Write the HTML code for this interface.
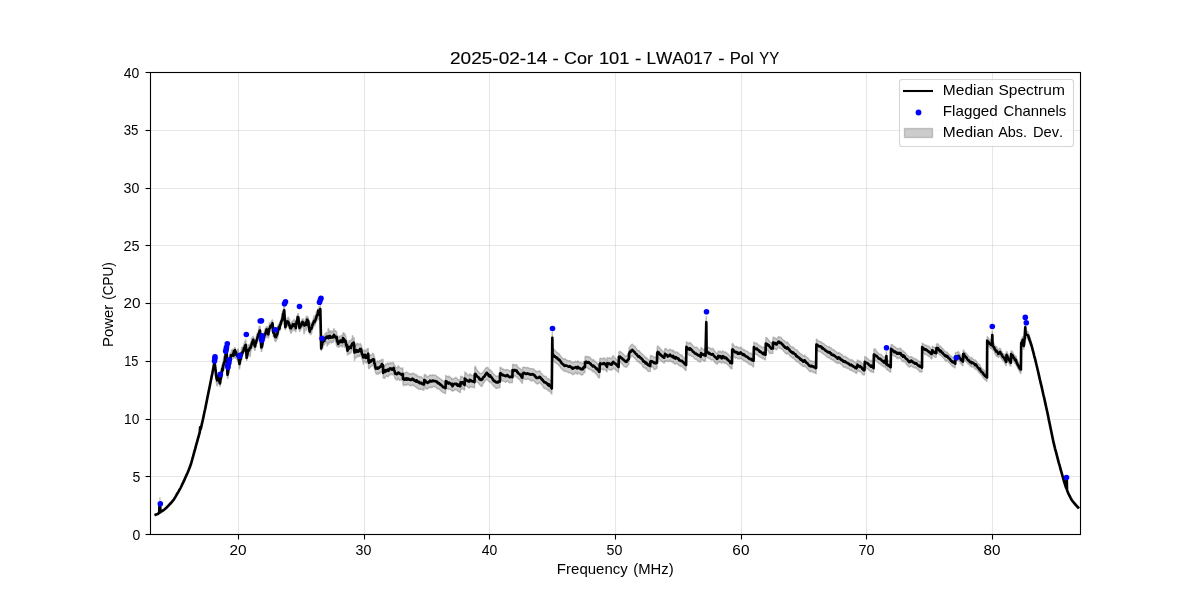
<!DOCTYPE html>
<html><head><meta charset="utf-8"><title>Median Spectrum</title>
<style>html,body{margin:0;padding:0;background:#fff;}body{width:1200px;height:600px;overflow:hidden;font-family:"Liberation Sans",sans-serif;}svg{display:block;will-change:transform;}text{font-family:"Liberation Sans",sans-serif;fill:#000;font-kerning:none;}</style>
</head><body>
<svg width="1200" height="600" viewBox="0 0 1200 600">
<rect x="0" y="0" width="1200" height="600" fill="#ffffff"/>
<g stroke="#b0b0b0" stroke-opacity="0.3" stroke-width="1.111">
<line x1="238.5" y1="72" x2="238.5" y2="534"/>
<line x1="364.5" y1="72" x2="364.5" y2="534"/>
<line x1="489.5" y1="72" x2="489.5" y2="534"/>
<line x1="615.5" y1="72" x2="615.5" y2="534"/>
<line x1="741.5" y1="72" x2="741.5" y2="534"/>
<line x1="866.5" y1="72" x2="866.5" y2="534"/>
<line x1="992.5" y1="72" x2="992.5" y2="534"/>
<line x1="150" y1="476.5" x2="1080" y2="476.5"/>
<line x1="150" y1="419.5" x2="1080" y2="419.5"/>
<line x1="150" y1="361.5" x2="1080" y2="361.5"/>
<line x1="150" y1="303.5" x2="1080" y2="303.5"/>
<line x1="150" y1="245.5" x2="1080" y2="245.5"/>
<line x1="150" y1="188.5" x2="1080" y2="188.5"/>
<line x1="150" y1="130.5" x2="1080" y2="130.5"/>
</g>
<path d="M214.7,359.9L215.2,363.6L215.7,366.9L216.2,369.0L216.7,373.3L217.2,376.5L217.8,373.0L218.3,374.1L218.9,376.4L219.4,377.8L220.0,377.6L220.6,375.4L221.1,372.6L221.7,364.7L222.2,366.3L222.7,365.1L223.2,361.6L223.7,356.4L224.2,356.6L224.7,357.1L225.2,353.2L225.7,352.0L226.2,346.2L226.7,348.7L227.5,370.9L228.0,367.8L228.5,363.6L229.0,362.4L229.6,359.6L230.2,353.2L230.8,352.4L231.4,351.9L231.9,349.1L232.4,352.0L233.0,348.7L233.5,351.2L234.0,348.3L234.5,349.1L235.0,347.1L235.5,350.5L236.0,350.5L236.5,351.4L237.1,351.8L237.7,349.2L238.3,349.1L238.9,357.0L239.5,361.2L240.1,354.6L240.6,355.1L241.1,351.4L241.7,347.0L242.3,347.8L242.8,347.1L243.4,346.0L244.0,344.0L244.6,342.0L245.2,341.3L245.8,339.6L246.7,353.7L247.3,351.4L247.9,348.2L248.5,344.1L249.0,346.6L249.5,344.5L250.0,344.9L250.5,344.5L251.0,341.8L251.5,337.7L252.1,338.8L252.7,336.8L253.3,336.5L253.9,337.9L254.4,339.6L255.0,340.4L255.5,338.9L256.0,338.9L256.5,335.4L257.0,333.4L257.5,333.4L258.0,332.2L258.5,330.9L259.0,327.0L259.5,327.0L260.0,325.7L260.6,332.9L261.3,343.7L261.9,341.2L262.4,339.9L263.0,335.9L263.6,335.1L264.2,331.7L264.7,332.0L265.2,328.2L265.7,329.5L266.2,326.9L266.7,326.3L267.2,327.7L267.8,326.3L268.3,330.6L268.9,327.1L269.4,322.4L269.9,324.8L270.5,322.7L271.0,322.3L271.5,321.1L272.0,320.3L272.5,319.6L273.3,327.8L273.8,327.4L274.3,329.6L274.8,332.1L275.3,331.8L275.8,333.1L276.3,331.3L276.8,328.7L277.3,327.1L277.8,326.2L278.3,324.9L278.8,323.9L279.4,323.6L279.9,322.1L280.5,320.5L281.0,319.2L281.5,317.2L282.1,316.3L282.6,311.4L283.1,310.6L283.7,308.4L284.2,304.8L284.8,315.3L285.3,322.3L285.8,319.6L286.3,319.3L286.8,319.2L287.3,318.1L287.8,317.9L288.3,316.8L288.8,319.7L289.3,318.6L289.8,322.7L290.3,322.9L290.8,325.5L291.4,322.2L291.9,321.9L292.4,321.1L293.0,320.8L293.6,321.4L294.1,318.9L294.7,322.6L295.2,320.4L295.8,321.3L296.3,320.3L296.8,315.5L297.3,316.8L297.8,314.2L298.3,313.0L298.9,318.0L299.5,323.7L300.0,322.4L300.5,322.7L301.0,321.9L301.5,321.1L302.0,319.7L302.5,318.9L303.0,318.8L303.5,319.6L304.0,321.3L304.5,321.3L305.0,322.0L305.5,318.8L306.0,317.6L306.5,316.3L307.1,316.4L307.7,316.7L308.3,317.5L309.0,322.7L309.7,328.1L310.2,323.3L310.8,322.8L311.4,323.5L311.9,323.5L312.4,321.6L313.0,320.9L313.5,318.4L314.1,315.5L314.6,317.6L315.1,316.3L315.6,316.0L316.2,312.3L316.7,312.6L317.2,310.7L317.7,310.2L318.2,308.0L318.8,309.2L319.3,306.1L319.8,307.5L320.3,305.0L321.2,343.0L321.7,340.8L322.2,339.5L322.8,338.0L323.3,335.3L323.9,336.3L324.4,336.4L324.9,333.7L325.5,333.3L326.1,334.5L326.6,331.8L327.2,334.0L327.7,334.0L328.3,327.8L328.8,330.4L329.4,333.3L329.9,330.0L330.5,332.1L331.0,332.2L331.5,330.6L332.0,333.1L332.5,330.7L333.0,333.0L333.5,329.8L334.0,328.3L334.5,331.6L335.0,330.8L335.6,330.8L336.1,331.5L336.6,331.7L337.2,336.3L337.8,336.1L338.3,339.3L338.8,337.0L339.4,335.8L339.9,337.3L340.5,336.6L341.0,336.7L341.5,334.9L342.0,335.5L342.5,336.1L343.0,333.5L343.5,332.2L344.0,333.5L344.5,336.1L345.0,333.4L345.5,336.1L346.0,337.5L346.5,340.3L347.0,340.6L347.5,344.9L348.0,344.0L348.5,342.7L349.0,341.4L349.5,340.1L350.0,342.1L350.5,341.4L351.0,340.1L351.5,339.3L352.1,339.6L352.6,335.2L353.1,339.9L353.6,336.9L354.2,338.3L354.4,346.3L355.0,345.4L355.5,346.7L356.0,344.7L356.5,345.5L357.0,343.3L357.5,343.3L358.0,345.2L358.6,344.0L359.1,344.4L359.7,344.4L360.2,343.6L360.8,344.3L361.3,345.5L361.8,346.9L362.3,349.2L362.8,349.7L363.3,352.0L363.9,351.0L364.4,350.2L364.9,350.0L365.5,351.4L366.0,350.6L366.6,351.1L367.1,349.0L367.7,349.2L368.2,347.9L368.5,356.7L369.0,357.6L369.5,355.9L370.0,354.7L370.5,355.6L371.0,354.9L371.6,354.9L372.1,354.5L372.7,353.4L373.3,353.9L373.8,354.0L374.3,357.1L374.8,358.0L375.3,359.8L375.8,363.2L376.3,362.8L376.9,362.0L377.4,360.4L377.9,361.6L378.5,362.3L379.0,361.8L379.6,360.0L380.1,361.3L380.7,360.9L381.3,360.1L381.8,359.3L382.4,359.6L383.0,359.5L383.2,367.1L383.8,365.8L384.3,365.8L384.8,366.0L385.4,365.1L385.9,363.9L386.4,364.2L386.9,364.0L387.5,362.7L388.0,363.5L388.5,364.3L389.0,363.5L389.5,363.1L390.0,362.8L390.5,363.4L391.0,362.9L391.5,363.1L392.0,363.5L392.5,363.0L393.1,362.5L393.6,362.9L394.1,364.4L394.7,365.4L395.2,366.0L395.8,367.6L396.3,367.4L396.9,368.3L397.4,368.0L397.9,366.6L398.5,365.7L399.0,366.9L399.5,367.5L400.1,367.8L400.6,368.1L401.1,368.1L401.7,368.8L402.2,368.4L402.8,368.1L403.0,373.2L403.6,373.4L404.1,373.8L404.6,373.8L405.1,372.7L405.7,372.6L406.2,372.0L406.7,372.2L407.2,372.5L407.8,372.7L408.3,373.3L408.8,373.4L409.3,374.0L409.8,373.7L410.3,373.9L410.8,373.7L411.3,373.8L411.8,374.1L412.4,373.2L412.9,373.9L413.4,373.6L413.9,373.4L414.4,373.9L414.9,374.2L415.4,374.5L415.9,375.1L416.4,375.8L416.9,374.9L417.4,375.7L417.9,376.1L418.4,376.4L418.9,376.3L419.4,376.8L419.9,377.0L420.5,376.9L421.0,376.5L421.5,377.1L422.0,377.6L422.5,377.9L423.0,378.4L423.5,378.5L424.0,378.6L424.3,374.2L424.8,374.8L425.4,374.6L425.9,375.5L426.4,376.0L427.0,376.6L427.5,377.0L428.0,376.5L428.5,376.4L429.0,375.9L429.5,375.6L430.0,374.9L430.5,375.3L431.1,375.3L431.6,375.6L432.1,375.4L432.6,374.8L433.2,375.1L433.7,375.1L434.2,375.3L434.7,375.3L435.3,375.3L435.8,375.4L436.3,376.0L436.8,376.6L437.3,376.7L437.8,377.5L438.3,377.3L438.8,377.5L439.4,378.0L439.9,378.4L440.4,379.1L440.9,379.2L441.4,379.6L441.9,379.9L442.4,380.4L442.9,380.8L443.4,381.1L443.9,381.5L444.4,381.7L444.9,381.9L445.5,382.4L445.8,375.6L446.3,375.9L446.8,376.1L447.3,376.3L447.8,376.7L448.3,377.0L448.9,376.1L449.4,376.4L449.9,376.9L450.4,377.4L450.9,378.0L451.5,378.6L452.0,378.0L452.5,380.3L453.1,379.1L453.6,378.7L454.1,378.6L454.7,378.2L455.2,378.1L455.8,377.5L456.3,377.8L456.8,378.3L457.3,379.3L457.8,379.9L458.3,379.6L458.8,379.6L459.3,380.4L459.8,380.3L460.4,380.0L460.6,375.8L461.2,376.7L461.8,377.3L462.3,376.6L462.9,377.3L463.5,377.5L464.0,378.3L464.6,378.4L464.9,372.2L465.4,372.4L466.0,373.0L466.5,373.5L467.0,374.2L467.6,374.6L468.1,375.3L468.7,375.6L469.2,375.7L469.7,374.1L470.2,374.0L470.8,374.6L471.3,374.8L471.8,375.4L472.4,375.7L472.9,375.5L473.4,375.2L473.9,375.2L474.5,375.1L474.8,367.1L475.3,366.5L475.8,367.6L476.4,368.9L476.9,370.0L477.4,370.5L478.0,371.2L478.5,371.8L479.0,372.2L479.6,373.3L480.1,373.5L480.6,373.5L481.2,373.6L481.7,373.2L482.2,373.3L482.7,372.4L483.2,372.1L483.7,371.3L484.2,370.7L484.7,369.7L485.2,368.9L485.7,368.3L486.2,368.1L486.7,367.0L487.2,367.7L487.7,367.7L488.2,367.9L488.7,369.3L489.2,369.8L489.7,370.5L490.2,369.5L490.7,370.4L491.2,371.0L491.8,371.5L492.3,372.3L492.8,372.9L493.3,373.7L493.8,374.4L494.3,374.6L494.8,375.1L495.3,375.5L495.8,375.8L496.3,376.1L496.8,376.3L497.3,376.1L497.8,376.4L498.3,376.3L498.8,375.7L499.3,375.7L499.9,375.7L500.1,367.4L500.7,367.5L501.2,367.8L501.7,368.4L502.2,368.8L502.7,369.2L503.2,369.1L503.7,369.6L504.3,369.7L504.8,369.7L505.3,369.9L505.8,370.0L506.3,369.4L506.8,369.4L507.3,369.6L507.8,369.8L508.3,370.3L508.8,370.4L509.3,370.5L509.8,371.0L510.3,371.0L510.8,370.9L511.3,370.7L511.8,370.4L512.4,370.5L512.6,364.0L513.2,364.8L513.7,365.4L514.2,364.5L514.7,364.6L515.2,364.9L515.7,364.9L516.2,364.8L516.7,364.7L517.2,366.1L517.7,366.6L518.2,367.7L518.8,368.0L519.3,367.9L519.8,368.3L520.3,368.8L520.8,369.4L521.3,370.0L521.8,371.0L522.4,371.4L522.6,367.8L523.2,367.3L523.7,367.2L524.2,367.1L524.7,367.2L525.2,367.5L525.8,367.6L526.3,367.9L526.8,368.0L527.3,367.4L527.8,367.4L528.4,367.8L528.9,368.1L529.4,368.5L529.9,368.6L530.4,368.8L530.9,368.6L531.5,368.8L532.0,368.8L532.5,368.7L533.0,368.7L533.5,369.2L534.1,369.6L534.6,369.9L535.1,370.7L535.7,370.8L536.2,371.6L536.7,371.5L537.2,371.6L537.7,371.4L538.2,371.5L538.7,371.4L539.2,370.9L539.7,370.8L540.2,371.6L540.7,372.5L541.2,373.3L541.7,373.5L542.2,374.4L542.7,374.7L543.2,375.2L543.7,376.0L544.2,376.3L544.7,376.3L545.2,376.3L545.8,376.5L546.3,377.0L546.8,378.0L547.3,378.5L547.8,379.1L548.3,379.6L548.8,378.7L549.3,379.4L549.8,380.0L550.3,380.3L550.8,380.8L551.3,381.7L551.8,382.4L552.3,331.7L552.6,349.0L553.1,348.2L553.6,348.7L554.2,349.8L554.7,350.1L555.2,350.9L555.7,351.3L556.2,351.9L556.7,352.3L557.3,352.4L557.8,353.1L558.3,353.2L558.8,354.0L559.3,353.8L559.8,354.8L560.3,355.5L560.8,356.2L561.3,356.9L561.8,357.4L562.3,358.0L562.8,358.6L563.3,358.8L563.8,359.0L564.4,359.3L564.9,358.6L565.4,359.2L566.0,359.6L566.5,359.9L567.1,360.2L567.6,360.5L568.1,360.6L568.7,361.0L569.2,360.9L569.8,360.6L570.3,360.9L570.9,361.6L571.4,361.9L572.0,362.1L572.5,362.8L573.0,362.4L573.6,362.2L574.1,362.0L574.7,362.0L575.2,361.7L575.8,361.3L576.3,361.7L576.8,361.9L577.3,362.1L577.8,360.7L578.3,361.3L578.8,362.1L579.3,362.4L579.8,362.5L580.3,362.3L580.8,362.5L581.3,362.9L581.8,363.3L582.3,363.4L582.8,363.5L583.3,361.9L583.8,361.6L584.3,361.2L584.9,361.7L585.1,356.5L585.7,356.3L586.2,356.2L586.7,356.7L587.2,357.2L587.7,357.2L588.2,356.6L588.7,356.7L589.2,357.3L589.7,357.3L590.2,357.8L590.7,358.1L591.2,359.0L591.8,359.4L592.3,359.9L592.8,360.5L593.3,359.6L593.8,360.0L594.3,360.7L594.8,361.1L595.4,361.7L595.9,362.3L596.4,362.2L596.9,362.8L597.4,363.5L597.9,364.2L598.4,364.7L598.9,365.8L599.5,366.1L599.8,358.7L600.3,358.1L600.8,358.5L601.3,358.5L601.9,358.5L602.4,358.4L602.9,358.6L603.4,358.7L604.0,357.9L604.5,358.1L605.0,358.5L605.6,359.2L606.3,360.4L607.0,361.4L607.2,357.7L607.8,358.0L608.4,358.0L608.9,358.1L609.5,357.8L610.0,358.1L610.6,358.6L611.1,358.8L611.7,358.7L612.2,357.1L612.8,356.3L613.3,355.9L613.8,356.7L614.4,357.5L614.9,358.0L615.4,358.3L616.0,359.1L616.5,359.6L617.0,360.0L617.5,360.7L618.1,361.3L618.6,361.6L618.9,351.5L619.4,352.0L619.9,351.3L620.5,351.7L621.0,352.1L621.5,352.6L622.0,352.8L622.5,353.4L623.1,353.8L623.6,354.4L624.1,354.9L624.6,355.4L625.1,355.8L625.7,356.1L626.2,356.3L626.7,356.2L627.2,355.0L627.8,354.3L628.3,353.7L628.8,353.5L629.1,348.0L629.6,347.0L630.1,346.2L630.7,345.9L631.2,344.9L631.7,344.5L632.2,344.1L632.7,344.6L633.3,345.3L633.8,345.8L634.3,346.1L634.8,346.2L635.3,346.7L635.9,347.8L636.4,348.5L636.9,349.5L637.4,350.1L637.9,350.5L638.4,351.0L639.0,350.6L639.5,351.1L640.0,352.1L640.5,352.3L641.0,352.9L641.5,353.6L642.1,354.0L642.6,354.2L643.1,355.0L643.6,355.6L644.1,355.9L644.6,356.7L645.2,357.1L645.7,358.1L646.2,357.5L646.7,358.3L647.2,358.4L647.7,359.1L648.2,359.3L648.7,359.8L649.2,360.2L649.7,360.6L650.2,360.5L650.5,355.6L651.1,355.7L651.6,356.2L652.1,355.9L652.6,356.4L653.2,356.5L653.7,357.1L654.2,357.4L654.8,357.3L655.3,357.0L655.9,357.2L656.4,357.0L657.0,356.8L657.2,347.0L657.8,346.1L658.3,346.7L658.9,346.8L659.4,347.8L659.9,348.1L660.5,349.0L661.0,349.2L661.5,350.0L662.1,350.7L662.6,351.1L663.1,351.8L663.7,351.9L664.2,352.2L665.0,348.3L665.5,348.8L666.1,348.6L666.6,349.2L667.2,350.0L667.8,350.6L668.3,350.5L668.9,350.4L669.4,349.8L670.0,349.1L670.5,349.8L671.0,350.2L671.6,350.4L672.1,350.3L672.6,351.0L673.2,350.1L673.7,350.7L674.2,352.0L674.8,352.0L675.3,352.5L675.9,351.9L676.4,352.5L677.0,352.5L677.5,352.2L678.0,353.0L678.5,353.0L679.0,353.9L679.5,354.3L680.0,354.5L680.5,354.9L681.0,355.3L681.5,354.9L682.1,355.3L682.6,356.1L683.1,356.7L683.6,357.2L684.1,357.9L684.6,358.3L685.1,358.9L685.6,359.4L686.1,359.6L686.4,341.5L686.9,342.2L687.4,342.7L687.9,343.2L688.4,343.5L689.0,343.0L689.5,343.4L690.0,342.2L690.5,343.1L691.0,343.5L691.5,344.2L692.0,344.5L692.5,345.1L693.0,345.7L693.5,346.2L694.1,346.9L694.6,347.5L695.1,347.5L695.6,347.6L696.1,347.0L696.6,347.4L697.1,347.7L697.6,347.9L698.1,348.7L698.7,349.6L699.2,350.1L699.7,350.5L700.2,350.5L700.7,350.6L701.0,347.0L701.6,348.0L702.1,348.4L702.7,349.1L703.2,349.1L703.8,349.3L704.3,349.6L704.9,348.7L705.5,349.6L706.3,316.0L706.6,346.2L707.1,346.6L707.6,346.8L708.1,347.1L708.7,347.8L709.2,347.6L709.7,348.0L710.2,348.3L710.7,348.4L711.2,349.0L711.7,348.9L712.2,348.5L712.8,348.5L713.3,349.1L713.8,349.6L714.3,350.5L714.9,351.3L715.4,351.9L715.9,352.4L716.4,352.9L717.0,353.5L717.5,353.5L718.3,350.7L718.9,351.6L719.4,352.0L720.0,351.2L720.6,351.6L721.1,352.1L721.7,353.1L722.2,351.5L722.8,351.0L723.3,351.4L723.8,351.7L724.3,352.5L724.8,352.7L725.3,352.1L725.9,352.2L726.4,352.8L726.9,353.0L727.4,353.7L727.9,353.7L728.4,354.5L728.9,355.2L729.4,355.8L729.9,356.4L730.4,357.3L730.9,357.2L731.4,357.7L732.0,357.5L732.2,344.1L732.8,343.6L733.3,344.4L733.8,345.3L734.3,346.0L734.8,346.8L735.3,346.8L735.8,346.9L736.3,346.4L736.8,346.6L737.3,346.8L737.8,347.6L738.3,347.8L738.9,347.6L739.4,347.9L740.0,347.7L740.5,347.1L741.0,347.6L741.5,348.1L742.0,348.5L742.5,349.1L743.0,349.2L743.5,349.8L744.0,349.4L744.5,350.0L745.0,350.4L745.5,351.0L746.0,351.2L746.5,351.3L747.1,351.1L747.6,351.4L748.1,352.1L748.6,352.7L749.1,353.0L749.6,353.2L750.1,353.2L750.6,353.4L751.1,353.2L751.6,354.0L752.1,354.6L752.6,354.6L753.1,355.1L753.6,355.2L753.9,341.7L754.4,342.5L754.9,343.2L755.4,343.3L755.9,343.5L756.4,343.7L756.9,343.1L757.4,343.9L757.9,344.4L758.4,344.8L758.9,345.1L759.4,345.8L759.9,345.7L760.4,346.1L760.9,346.4L761.4,346.8L761.9,347.1L762.4,347.3L762.9,347.6L763.4,347.0L763.9,347.6L764.4,348.6L764.9,348.6L765.5,349.1L765.8,337.9L766.2,338.0L766.8,337.8L767.2,338.3L767.8,339.1L768.2,339.7L768.8,340.0L769.2,341.1L769.8,341.6L770.2,342.1L770.8,342.5L771.2,343.0L771.8,343.0L772.2,343.0L772.8,343.4L773.0,337.3L773.6,337.4L774.1,337.4L774.6,337.7L775.1,337.9L775.7,338.7L776.2,339.1L776.7,339.3L777.2,338.2L777.7,337.7L778.2,337.0L778.7,336.6L779.2,337.0L779.7,337.5L780.2,337.4L780.8,337.1L781.3,337.6L781.8,338.7L782.3,339.2L782.8,339.6L783.3,339.9L783.8,340.4L784.4,340.6L784.9,341.5L785.4,342.0L785.9,342.2L786.4,342.6L786.9,343.1L787.4,342.0L787.9,342.6L788.5,343.5L789.0,344.3L789.5,344.6L790.0,345.8L790.5,345.9L791.0,346.6L791.5,346.8L792.0,347.3L792.5,347.7L793.0,346.9L793.5,347.4L794.0,347.9L794.5,348.5L795.0,349.1L795.5,349.3L796.0,349.8L796.5,350.1L797.0,349.9L797.5,350.9L798.0,351.3L798.5,352.0L799.0,352.5L799.5,353.0L800.0,353.6L800.5,354.1L801.0,353.9L801.5,354.2L802.0,354.7L802.5,355.0L803.0,355.8L803.5,356.1L804.0,356.3L804.5,355.2L805.0,355.5L805.5,356.3L806.0,356.8L806.5,357.3L807.0,357.4L807.5,357.6L808.0,358.0L808.5,358.7L809.0,359.4L809.5,360.2L810.0,360.6L810.5,361.1L811.0,360.7L811.5,361.0L812.0,361.3L812.5,361.2L813.0,361.5L813.6,361.7L814.1,361.4L814.6,361.4L815.1,362.1L815.6,362.7L816.1,362.9L816.4,339.2L816.9,339.4L817.4,340.0L817.9,340.4L818.4,340.9L818.9,341.4L819.4,341.5L820.0,341.7L820.5,341.8L821.0,341.9L821.5,342.0L822.0,343.0L822.5,343.3L823.0,343.2L823.5,343.7L824.0,343.9L824.5,344.3L825.0,344.9L825.5,345.4L826.0,345.6L826.5,345.9L827.1,346.2L827.6,346.7L828.1,346.7L828.6,347.0L829.1,346.7L829.6,346.8L830.1,347.6L830.6,347.8L831.1,347.9L831.6,348.8L832.1,349.1L832.6,349.5L833.1,349.9L833.7,349.5L834.2,350.1L834.7,350.5L835.2,350.9L835.7,351.4L836.2,351.8L836.7,352.0L837.2,352.6L837.7,353.4L838.2,353.5L838.7,352.5L839.2,352.8L839.7,353.0L840.2,353.4L840.7,354.0L841.2,354.2L841.7,354.3L842.2,354.8L842.7,355.6L843.2,356.2L843.7,356.3L844.2,356.6L844.7,356.8L845.2,356.3L845.7,356.8L846.2,357.1L846.7,357.4L847.2,357.7L847.7,358.1L848.2,358.4L848.7,358.8L849.2,359.3L849.7,359.7L850.2,360.1L850.7,360.1L851.2,359.6L851.7,360.1L852.2,360.0L852.7,360.4L853.2,360.8L853.7,361.3L854.2,361.7L854.7,361.8L855.2,362.6L855.7,362.6L856.2,363.0L856.7,362.8L857.5,359.7L858.0,360.5L858.6,360.6L859.1,361.1L859.6,361.7L860.2,361.2L860.7,361.9L861.2,362.3L861.8,363.0L862.3,363.7L862.8,364.0L863.4,365.0L863.9,365.4L864.5,365.1L864.8,356.7L865.3,357.0L865.8,357.1L866.3,357.3L866.8,357.8L867.4,358.5L867.9,358.8L868.4,359.3L868.9,359.9L869.4,360.3L870.0,360.6L870.5,360.9L871.0,361.3L871.5,360.3L872.0,360.8L872.6,361.4L873.1,362.2L873.6,363.1L873.9,349.2L874.4,348.9L874.9,349.0L875.4,349.2L875.9,350.2L876.4,350.9L876.9,351.8L877.4,352.3L877.9,352.8L878.4,353.4L878.9,353.8L879.4,354.1L879.9,354.0L880.4,354.6L880.9,354.5L881.4,354.6L881.9,355.3L882.4,356.0L882.9,356.7L883.4,357.2L883.9,357.7L884.4,356.4L884.9,357.1L885.4,357.4L885.9,358.7L886.4,351.2L886.7,359.5L887.3,359.6L887.9,360.1L888.4,360.7L889.0,360.7L889.6,361.6L890.1,362.2L890.7,362.5L891.0,344.2L891.5,344.8L892.0,344.8L892.6,345.1L893.1,345.5L893.6,346.1L894.1,346.7L894.6,346.8L895.2,346.9L895.7,347.6L896.2,347.8L896.7,348.6L897.3,349.0L897.8,348.5L898.3,349.2L898.9,348.6L899.4,348.6L900.0,348.1L900.5,348.6L901.0,348.7L901.5,350.1L902.0,350.6L902.6,351.2L903.1,352.1L903.6,351.2L904.1,352.0L904.6,352.1L905.1,352.7L905.6,353.0L906.1,353.8L906.6,354.7L907.2,355.3L907.7,355.8L908.2,356.3L908.7,356.2L909.2,357.0L909.7,357.1L910.3,357.3L910.8,356.6L911.3,356.5L911.8,356.9L912.3,357.2L912.8,357.6L913.3,358.1L913.8,358.2L914.3,358.6L914.9,359.2L915.4,359.5L915.9,358.8L916.4,359.3L916.9,359.9L917.4,360.2L917.9,360.5L918.4,360.8L918.9,361.1L919.4,361.5L919.9,362.2L920.4,361.7L920.9,362.1L921.4,362.4L922.0,363.2L922.2,342.9L922.8,343.6L923.3,343.9L923.8,344.4L924.3,344.8L924.8,345.4L925.3,345.6L925.8,344.9L926.3,345.3L926.8,345.5L927.4,345.9L927.9,346.2L928.4,346.6L928.9,346.2L929.4,346.8L929.9,347.2L930.4,348.2L930.9,349.1L931.4,349.7L932.0,349.7L932.2,346.1L932.8,346.7L933.2,346.9L933.8,347.0L934.2,347.1L934.8,347.5L935.2,348.0L935.8,348.4L936.2,348.5L936.5,343.7L937.1,344.5L937.6,343.3L938.1,344.0L938.6,344.9L939.1,345.8L939.6,346.4L940.1,347.1L940.7,346.3L941.2,347.1L941.7,347.8L942.2,348.1L942.7,348.6L943.2,349.3L943.7,349.8L944.3,350.4L944.8,351.2L945.3,351.7L945.8,351.8L946.3,352.7L946.8,351.9L947.4,352.6L947.9,353.0L948.4,353.8L948.9,354.4L949.5,354.7L950.0,355.2L950.5,355.8L951.0,356.4L951.6,356.5L952.1,357.0L952.6,357.6L953.1,357.3L953.7,358.0L954.2,358.6L954.7,358.8L955.2,359.6L955.5,352.4L956.2,352.6L956.9,352.5L957.5,351.9L958.0,352.4L958.6,351.7L959.1,352.9L959.7,353.9L960.2,354.6L960.8,355.6L961.3,356.1L961.9,356.7L962.4,357.4L963.0,357.7L963.2,350.2L963.8,350.2L964.3,351.3L964.8,352.0L965.4,352.6L965.9,353.3L966.4,353.2L966.9,354.0L967.5,355.0L968.0,355.6L968.5,356.0L969.1,356.6L969.6,357.5L970.1,357.9L970.6,358.0L971.2,357.3L971.7,358.8L972.2,358.4L972.7,358.8L973.2,359.0L973.7,359.3L974.2,359.9L974.7,360.5L975.2,361.1L975.7,360.3L976.2,360.9L976.8,361.8L977.3,362.6L977.8,363.3L978.3,363.7L978.8,364.1L979.3,364.8L979.8,364.5L980.3,366.0L980.8,366.8L981.3,367.7L981.9,368.3L982.4,368.9L982.9,369.2L983.4,369.7L983.9,370.0L984.4,370.6L984.9,371.6L985.4,372.5L985.9,372.4L986.4,372.9L987.0,373.2L987.2,336.4L987.8,337.3L988.3,337.9L988.8,338.8L989.3,339.3L989.8,339.7L990.3,340.1L990.8,340.6L991.3,340.7L991.8,340.7L992.3,330.7L992.6,341.6L993.1,342.1L993.6,342.9L994.2,343.8L994.7,345.3L995.2,346.2L995.7,346.6L996.2,347.5L996.7,346.8L997.3,348.1L997.8,348.9L998.3,350.5L998.9,349.4L999.4,348.9L1000.0,348.0L1000.5,349.2L1001.0,350.0L1001.6,351.2L1002.1,351.9L1002.6,352.9L1003.1,353.6L1003.6,353.7L1004.2,354.6L1004.7,355.5L1005.2,356.3L1005.7,357.1L1006.2,358.0L1006.5,351.1L1007.1,352.2L1007.6,353.3L1008.2,354.4L1008.7,355.5L1009.2,356.5L1009.8,357.5L1010.3,358.4L1010.9,358.9L1011.1,350.4L1011.7,351.6L1012.2,352.4L1012.7,351.8L1013.2,353.0L1013.7,354.0L1014.2,354.8L1014.7,355.8L1015.3,356.5L1015.8,355.8L1016.3,357.1L1016.8,358.8L1017.3,360.0L1017.8,361.4L1018.3,362.1L1018.8,363.1L1019.4,364.2L1019.9,364.7L1020.4,365.6L1020.9,366.0L1021.2,339.4L1021.8,338.8L1022.3,337.6L1022.9,336.2L1023.8,342.2L1024.5,336.4L1025.3,324.0L1025.6,330.4L1026.1,330.6L1026.6,331.0L1027.2,331.2L1027.7,331.9L1028.2,332.1L1028.8,334.3L1029.4,336.0L1030.0,337.5L1030.6,338.9L1030.6,345.7L1030.0,344.2L1029.4,342.7L1028.8,340.9L1028.2,339.1L1027.7,339.1L1027.2,338.6L1026.6,338.2L1026.1,337.5L1025.6,337.1L1025.3,330.9L1024.5,343.7L1023.8,349.6L1022.9,343.4L1022.3,344.7L1021.8,346.2L1021.2,347.0L1020.9,373.7L1020.4,373.2L1019.9,372.0L1019.4,371.4L1018.8,370.1L1018.3,369.1L1017.8,368.4L1017.3,367.1L1016.8,366.2L1016.3,364.8L1015.8,363.4L1015.3,364.0L1014.7,363.1L1014.2,362.1L1013.7,361.6L1013.2,360.9L1012.7,359.7L1012.2,360.1L1011.7,359.0L1011.1,357.6L1010.9,366.2L1010.3,365.7L1009.8,364.8L1009.2,363.9L1008.7,363.0L1008.2,362.0L1007.6,361.1L1007.1,360.1L1006.5,359.2L1006.2,366.0L1005.7,364.9L1005.2,363.8L1004.7,362.9L1004.2,362.0L1003.6,361.2L1003.1,361.1L1002.6,360.5L1002.1,359.6L1001.6,358.9L1001.0,357.8L1000.5,357.0L1000.0,355.9L999.4,356.4L998.9,356.7L998.3,357.8L997.8,356.8L997.3,356.7L996.7,355.9L996.2,356.2L995.7,354.9L995.2,354.2L994.7,353.2L994.2,351.6L993.6,350.6L993.1,349.9L992.6,349.7L992.3,339.0L991.8,348.9L991.3,348.9L990.8,348.6L990.3,348.1L989.8,347.5L989.3,346.9L988.8,346.3L988.3,345.7L987.8,345.4L987.2,344.8L987.0,381.4L986.4,380.8L985.9,379.9L985.4,380.1L984.9,379.7L984.4,379.2L983.9,378.8L983.4,378.0L982.9,377.1L982.4,376.4L981.9,375.8L981.3,375.2L980.8,374.3L980.3,373.7L979.8,372.5L979.3,373.0L978.8,372.2L978.3,371.6L977.8,371.0L977.3,370.4L976.8,369.6L976.2,368.9L975.7,368.3L975.2,369.2L974.7,368.6L974.2,367.9L973.7,367.3L973.2,366.9L972.7,366.6L972.2,366.6L971.7,367.3L971.2,366.0L970.6,366.4L970.1,366.0L969.6,365.3L969.1,364.6L968.5,364.2L968.0,363.9L967.5,363.3L966.9,362.5L966.4,361.8L965.9,361.6L965.4,360.7L964.8,359.9L964.3,359.2L963.8,358.3L963.2,358.4L963.0,365.9L962.4,365.5L961.9,364.8L961.3,364.1L960.8,363.5L960.2,362.4L959.7,361.7L959.1,360.9L958.6,359.9L958.0,360.6L957.5,360.1L956.9,360.7L956.2,360.9L955.5,361.0L955.2,368.3L954.7,367.5L954.2,367.3L953.7,366.7L953.1,366.0L952.6,366.5L952.1,366.0L951.6,365.3L951.0,365.0L950.5,364.2L950.0,363.5L949.5,362.9L948.9,362.5L948.4,361.9L947.9,361.0L947.4,360.5L946.8,360.2L946.3,361.3L945.8,360.8L945.3,360.7L944.8,360.0L944.3,358.9L943.7,358.3L943.2,357.9L942.7,357.3L942.2,356.8L941.7,356.3L941.2,355.4L940.7,354.6L940.1,355.4L939.6,354.8L939.1,354.2L938.6,353.5L938.1,353.0L937.6,352.4L937.1,353.5L936.5,352.5L936.2,357.2L935.8,357.3L935.2,357.2L934.8,357.1L934.2,356.8L933.8,356.2L933.2,355.5L932.8,354.9L932.2,354.8L932.0,358.6L931.4,359.0L930.9,358.6L930.4,357.7L929.9,356.9L929.4,356.5L928.9,355.9L928.4,356.3L927.9,355.8L927.4,355.3L926.8,354.9L926.3,354.5L925.8,354.0L925.3,354.6L924.8,354.4L924.3,353.7L923.8,353.2L923.3,352.6L922.8,352.4L922.2,352.1L922.0,372.5L921.4,371.8L920.9,371.8L920.4,371.4L919.9,372.0L919.4,371.1L918.9,370.4L918.4,369.9L917.9,369.4L917.4,369.1L916.9,368.7L916.4,368.1L915.9,367.6L915.4,368.1L914.9,368.0L914.3,367.6L913.8,367.4L913.3,367.3L912.8,366.9L912.3,366.6L911.8,366.2L911.3,365.8L910.8,365.9L910.3,366.7L909.7,366.8L909.2,367.1L908.7,366.4L908.2,366.3L907.7,365.6L907.2,364.9L906.6,364.4L906.1,363.6L905.6,362.9L905.1,362.3L904.6,361.4L904.1,361.0L903.6,360.5L903.1,361.7L902.6,361.1L902.0,360.6L901.5,360.2L901.0,359.0L900.5,358.8L900.0,357.9L899.4,358.3L898.9,358.1L898.3,358.6L897.8,358.0L897.3,358.4L896.7,358.0L896.2,357.1L895.7,357.0L895.2,356.3L894.6,356.3L894.1,356.3L893.6,355.7L893.1,355.2L892.6,354.7L892.0,354.3L891.5,354.2L891.0,353.6L890.7,372.1L890.1,372.1L889.6,371.7L889.0,370.6L888.4,370.6L887.9,369.9L887.3,369.5L886.7,369.6L886.4,361.4L885.9,368.6L885.4,367.0L884.9,366.5L884.4,365.6L883.9,366.8L883.4,366.2L882.9,366.0L882.4,365.8L881.9,365.6L881.4,365.0L880.9,364.6L880.4,364.4L879.9,363.7L879.4,363.8L878.9,363.5L878.4,363.1L877.9,362.5L877.4,362.1L876.9,361.6L876.4,361.1L875.9,360.9L875.4,360.5L874.9,360.1L874.4,359.4L873.9,359.3L873.6,373.0L873.1,372.4L872.6,371.9L872.0,371.7L871.5,371.0L871.0,371.9L870.5,371.4L870.0,370.9L869.4,370.5L868.9,369.8L868.4,369.3L867.9,369.0L867.4,368.7L866.8,368.2L866.3,367.7L865.8,367.6L865.3,367.3L864.8,366.6L864.5,374.8L863.9,374.8L863.4,374.9L862.8,374.3L862.3,374.2L861.8,373.3L861.2,372.4L860.7,371.9L860.2,371.3L859.6,371.9L859.1,371.5L858.6,371.0L858.0,371.0L857.5,370.2L856.7,373.2L856.2,373.4L855.7,372.9L855.2,372.7L854.7,371.8L854.2,371.7L853.7,371.6L853.2,371.3L852.7,371.1L852.2,370.6L851.7,370.5L851.2,370.0L850.7,370.3L850.2,370.2L849.7,369.7L849.2,369.3L848.7,368.7L848.2,368.3L847.7,368.3L847.2,368.2L846.7,368.3L846.2,368.0L845.7,367.5L845.2,366.9L844.7,367.3L844.2,367.1L843.7,366.7L843.2,366.7L842.7,366.0L842.2,365.1L841.7,364.6L841.2,364.4L840.7,364.1L840.2,363.5L839.7,363.1L839.2,362.8L838.7,362.5L838.2,363.6L837.7,363.6L837.2,363.1L836.7,362.7L836.2,362.7L835.7,362.5L835.2,362.2L834.7,361.5L834.2,360.8L833.7,360.0L833.1,360.4L832.6,360.1L832.1,359.7L831.6,359.6L831.1,358.9L830.6,359.1L830.1,358.7L829.6,357.7L829.1,357.4L828.6,357.7L828.1,357.4L827.6,357.5L827.1,357.0L826.5,356.4L826.0,356.0L825.5,355.6L825.0,355.2L824.5,354.7L824.0,354.3L823.5,354.1L823.0,353.4L822.5,353.5L822.0,353.2L821.5,352.2L821.0,352.1L820.5,351.9L820.0,351.8L819.4,351.6L818.9,351.5L818.4,351.1L817.9,350.7L817.4,350.4L816.9,350.0L816.4,349.9L816.1,373.7L815.6,373.5L815.1,373.0L814.6,372.4L814.1,372.4L813.6,372.5L813.0,372.2L812.5,371.8L812.0,371.7L811.5,371.3L811.0,371.0L810.5,371.8L810.0,371.6L809.5,371.4L809.0,370.7L808.5,370.1L808.0,369.4L807.5,368.8L807.0,368.3L806.5,367.9L806.0,367.3L805.5,366.8L805.0,366.0L804.5,365.7L804.0,366.8L803.5,366.7L803.0,366.4L802.5,365.7L802.0,365.4L801.5,364.9L801.0,364.5L800.5,364.6L800.0,364.1L799.5,363.4L799.0,362.9L798.5,362.3L798.0,362.0L797.5,361.9L797.0,361.3L796.5,361.5L796.0,360.9L795.5,360.2L795.0,359.9L794.5,359.4L794.0,358.8L793.5,358.4L793.0,357.6L792.5,358.1L792.0,357.5L791.5,357.1L791.0,356.9L790.5,356.3L790.0,356.1L789.5,354.9L789.0,354.5L788.5,353.9L787.9,353.4L787.4,353.0L786.9,354.2L786.4,353.8L785.9,353.4L785.4,353.2L784.9,352.8L784.4,352.0L783.8,351.6L783.3,350.7L782.8,350.0L782.3,349.5L781.8,349.3L781.3,348.5L780.8,348.2L780.2,348.4L779.7,348.2L779.2,347.6L778.7,347.1L778.2,347.5L777.7,348.1L777.2,348.7L776.7,349.7L776.2,349.6L775.7,349.4L775.1,348.7L774.6,348.7L774.1,348.2L773.6,348.0L773.0,347.7L772.8,353.7L772.2,353.3L771.8,353.3L771.2,353.4L770.8,353.5L770.2,353.5L769.8,353.5L769.2,352.8L768.8,351.4L768.2,350.8L767.8,350.2L767.2,349.6L766.8,349.4L766.2,349.6L765.8,349.2L765.5,360.2L764.9,359.4L764.4,359.5L763.9,358.6L763.4,358.1L762.9,358.7L762.4,358.3L761.9,357.9L761.4,357.6L760.9,357.3L760.4,357.1L759.9,356.9L759.4,356.8L758.9,356.1L758.4,355.8L757.9,355.5L757.4,355.0L756.9,354.2L756.4,354.7L755.9,354.4L755.4,354.1L754.9,354.3L754.4,354.0L753.9,353.6L753.6,367.2L753.1,366.8L752.6,365.8L752.1,365.5L751.6,365.0L751.1,364.4L750.6,364.8L750.1,364.6L749.6,364.4L749.1,364.1L748.6,363.8L748.1,363.3L747.6,362.7L747.1,362.3L746.5,362.2L746.0,361.9L745.5,361.4L745.0,361.0L744.5,360.8L744.0,360.5L743.5,360.7L743.0,359.9L742.5,359.6L742.0,359.0L741.5,358.8L741.0,358.4L740.5,357.9L740.0,358.7L739.4,359.0L738.9,358.8L738.3,358.9L737.8,358.7L737.3,357.9L736.8,357.9L736.3,357.8L735.8,358.3L735.3,357.9L734.8,357.7L734.3,356.9L733.8,356.3L733.3,355.6L732.8,354.9L732.2,355.3L732.0,368.6L731.4,368.7L730.9,368.2L730.4,368.1L729.9,367.1L729.4,366.6L728.9,366.1L728.4,365.6L727.9,364.9L727.4,364.7L726.9,363.9L726.4,363.5L725.9,362.9L725.3,362.8L724.8,363.4L724.3,363.2L723.8,362.5L723.3,362.2L722.8,361.7L722.2,362.2L721.7,363.6L721.1,362.7L720.6,362.1L720.0,361.8L719.4,362.5L718.9,362.1L718.3,361.2L717.5,364.0L717.0,364.0L716.4,363.6L715.9,363.3L715.4,363.0L714.9,362.6L714.3,361.7L713.8,360.8L713.3,360.3L712.8,359.7L712.2,359.7L711.7,360.0L711.2,360.0L710.7,359.4L710.2,359.2L709.7,358.8L709.2,358.3L708.7,358.4L708.1,357.8L707.6,357.5L707.1,357.4L706.6,357.3L706.3,327.4L705.5,361.3L704.9,360.5L704.3,361.3L703.8,360.8L703.2,360.4L702.7,360.3L702.1,359.5L701.6,359.1L701.0,358.2L700.7,361.9L700.2,361.9L699.7,362.0L699.2,361.7L698.7,361.5L698.1,361.0L697.6,360.6L697.1,360.1L696.6,359.7L696.1,359.1L695.6,359.4L695.1,359.1L694.6,358.8L694.1,358.1L693.5,357.3L693.0,356.8L692.5,356.4L692.0,356.2L691.5,356.2L691.0,355.8L690.5,355.5L690.0,354.7L689.5,355.8L689.0,354.9L688.4,354.8L687.9,354.1L687.4,353.6L686.9,353.2L686.4,352.5L686.1,370.6L685.6,370.3L685.1,369.8L684.6,369.1L684.1,368.6L683.6,367.9L683.1,367.4L682.6,367.0L682.1,366.3L681.5,366.1L681.0,366.5L680.5,366.1L680.0,365.7L679.5,365.7L679.0,365.5L678.5,364.8L678.0,364.5L677.5,363.6L677.0,363.6L676.4,363.7L675.9,363.3L675.3,364.0L674.8,363.7L674.2,363.8L673.7,362.6L673.2,361.8L672.6,362.5L672.1,361.6L671.6,361.7L671.0,361.5L670.5,361.2L670.0,360.4L669.4,361.0L668.9,361.5L668.3,361.6L667.8,361.6L667.2,361.0L666.6,360.9L666.1,361.0L665.5,361.6L665.0,360.4L664.2,363.2L663.7,362.6L663.1,362.5L662.6,361.7L662.1,361.6L661.5,361.2L661.0,360.8L660.5,360.6L659.9,359.8L659.4,359.5L658.9,358.4L658.3,358.1L657.8,357.3L657.2,358.3L657.0,368.1L656.4,368.4L655.9,368.8L655.3,368.9L654.8,369.5L654.2,369.5L653.7,368.7L653.2,367.5L652.6,367.1L652.1,366.8L651.6,367.3L651.1,366.9L650.5,366.7L650.2,371.5L649.7,371.5L649.2,371.4L648.7,371.4L648.2,371.3L647.7,371.0L647.2,369.8L646.7,369.2L646.2,368.2L645.7,368.9L645.2,368.0L644.6,367.8L644.1,367.4L643.6,367.6L643.1,367.1L642.6,365.8L642.1,364.9L641.5,364.1L641.0,363.7L640.5,363.4L640.0,363.4L639.5,362.4L639.0,361.7L638.4,362.0L637.9,361.6L637.4,361.3L636.9,360.7L636.4,360.0L635.9,359.6L635.3,358.8L634.8,358.2L634.3,358.0L633.8,357.6L633.3,357.0L632.7,356.2L632.2,355.6L631.7,355.9L631.2,356.3L630.7,357.4L630.1,357.6L629.6,358.2L629.1,359.1L628.8,364.5L628.3,364.7L627.8,365.3L627.2,366.1L626.7,367.2L626.2,367.3L625.7,367.0L625.1,366.9L624.6,366.7L624.1,366.4L623.6,365.7L623.1,364.9L622.5,364.4L622.0,363.7L621.5,363.6L621.0,363.1L620.5,362.6L619.9,362.1L619.4,362.7L618.9,362.1L618.6,372.2L618.1,371.9L617.5,371.4L617.0,370.7L616.5,370.4L616.0,369.9L615.4,369.3L614.9,369.2L614.4,368.9L613.8,368.6L613.3,368.1L612.8,368.8L612.2,369.1L611.7,370.2L611.1,369.9L610.6,370.0L610.0,369.7L609.5,369.6L608.9,369.5L608.4,369.1L607.8,369.0L607.2,368.6L607.0,372.1L606.3,371.1L605.6,370.1L605.0,369.6L604.5,369.3L604.0,369.1L603.4,369.9L602.9,369.7L602.4,369.4L601.9,369.3L601.3,369.4L600.8,369.4L600.3,369.1L599.8,370.0L599.5,377.8L598.9,378.0L598.4,377.3L597.9,376.6L597.4,375.7L596.9,374.7L596.4,374.0L595.9,374.0L595.4,373.2L594.8,372.6L594.3,372.0L593.8,371.2L593.3,370.8L592.8,371.7L592.3,371.1L591.8,370.7L591.2,370.3L590.7,369.5L590.2,369.3L589.7,369.2L589.2,369.5L588.7,369.0L588.2,368.4L587.7,368.4L587.2,368.0L586.7,367.6L586.2,367.2L585.7,367.4L585.1,367.6L584.9,372.9L584.3,372.4L583.8,372.8L583.3,373.1L582.8,374.7L582.3,374.6L581.8,374.9L581.3,374.8L580.8,374.6L580.3,374.1L579.8,373.9L579.3,373.5L578.8,373.5L578.3,373.1L577.8,373.1L577.3,374.3L576.8,373.8L576.3,373.3L575.8,372.8L575.2,373.3L574.7,373.8L574.1,374.0L573.6,374.2L573.0,374.5L572.5,374.7L572.0,373.8L571.4,373.4L570.9,373.1L570.3,372.6L569.8,372.4L569.2,372.7L568.7,372.7L568.1,372.3L567.6,372.2L567.1,371.9L566.5,371.7L566.0,371.5L565.4,371.3L564.9,370.9L564.4,371.3L563.8,370.7L563.3,370.2L562.8,370.1L562.3,369.5L561.8,369.1L561.3,368.6L560.8,367.9L560.3,367.2L559.8,366.5L559.3,365.4L558.8,365.6L558.3,364.7L557.8,364.5L557.3,363.6L556.7,363.4L556.2,363.3L555.7,362.9L555.2,362.7L554.7,362.0L554.2,361.8L553.6,360.7L553.1,360.2L552.6,361.0L552.3,343.7L551.8,394.4L551.3,393.5L550.8,392.6L550.3,391.9L549.8,391.5L549.3,390.9L548.8,390.1L548.3,390.8L547.8,390.1L547.3,389.4L546.8,389.4L546.3,388.9L545.8,388.9L545.2,388.7L544.7,388.5L544.2,388.3L543.7,387.7L543.2,386.7L542.7,385.8L542.2,385.3L541.7,384.5L541.2,384.3L540.7,383.6L540.2,382.9L539.7,382.4L539.2,382.7L538.7,383.4L538.2,383.7L537.7,383.8L537.2,383.9L536.7,383.6L536.2,383.5L535.7,382.6L535.1,382.3L534.6,381.2L534.1,381.0L533.5,380.6L533.0,380.1L532.5,380.4L532.0,380.8L531.5,381.0L530.9,380.7L530.4,380.4L529.9,379.8L529.4,379.5L528.9,379.4L528.4,379.3L527.8,379.0L527.3,378.9L526.8,379.4L526.3,379.4L525.8,379.2L525.2,379.2L524.7,379.1L524.2,379.0L523.7,379.2L523.2,379.5L522.6,379.8L522.4,383.4L521.8,383.0L521.3,381.9L520.8,381.2L520.3,380.5L519.8,379.8L519.3,379.1L518.8,379.1L518.2,378.8L517.7,378.1L517.2,378.0L516.7,376.8L516.2,376.5L515.7,376.3L515.2,375.9L514.7,375.8L514.2,375.8L513.7,376.9L513.2,376.5L512.6,375.9L512.4,382.5L511.8,382.4L511.3,382.6L510.8,382.8L510.3,382.8L509.8,382.8L509.3,382.4L508.8,382.2L508.3,382.0L507.8,381.4L507.3,381.1L506.8,381.2L506.3,381.4L505.8,382.3L505.3,382.1L504.8,381.6L504.3,381.4L503.7,381.2L503.2,380.9L502.7,381.0L502.2,380.6L501.7,380.2L501.2,379.6L500.7,379.3L500.1,379.3L499.9,387.6L499.3,387.6L498.8,387.5L498.3,388.0L497.8,388.0L497.3,387.8L496.8,388.3L496.3,388.4L495.8,388.1L495.3,387.6L494.8,387.0L494.3,386.4L493.8,386.3L493.3,385.7L492.8,385.1L492.3,384.3L491.8,383.5L491.2,383.0L490.7,382.4L490.2,381.4L489.7,382.3L489.2,381.8L488.7,381.4L488.2,380.3L487.7,380.0L487.2,379.8L486.7,378.8L486.2,379.8L485.7,380.0L485.2,380.6L484.7,381.4L484.2,382.3L483.7,382.8L483.2,383.5L482.7,384.4L482.2,385.9L481.7,386.4L481.2,386.3L480.6,385.6L480.1,385.0L479.6,384.8L479.0,383.7L478.5,383.2L478.0,382.8L477.4,382.3L476.9,382.0L476.4,381.3L475.8,380.3L475.3,379.6L474.8,379.9L474.5,387.7L473.9,387.5L473.4,387.2L472.9,387.3L472.4,387.3L471.8,387.1L471.3,386.8L470.8,386.9L470.2,386.5L469.7,386.5L469.2,388.0L468.7,387.8L468.1,387.6L467.6,387.0L467.0,386.6L466.5,386.0L466.0,385.5L465.4,384.8L464.9,384.3L464.6,390.3L464.0,389.9L463.5,388.9L462.9,388.6L462.3,388.0L461.8,389.2L461.2,389.3L460.6,388.5L460.4,392.5L459.8,392.4L459.3,392.1L458.8,391.1L458.3,391.1L457.8,391.2L457.3,390.7L456.8,389.8L456.3,389.4L455.8,389.3L455.2,390.0L454.7,390.2L454.1,390.5L453.6,390.3L453.1,390.4L452.5,391.7L452.0,389.7L451.5,390.5L450.9,390.1L450.4,389.5L449.9,389.1L449.4,388.8L448.9,388.6L448.3,389.5L447.8,389.1L447.3,388.3L446.8,387.6L446.3,387.2L445.8,386.9L445.5,393.8L444.9,393.3L444.4,393.2L443.9,393.0L443.4,392.6L442.9,392.3L442.4,392.0L441.9,391.5L441.4,391.2L440.9,390.6L440.4,390.4L439.9,389.7L439.4,389.3L438.8,388.8L438.3,388.7L437.8,389.0L437.3,388.3L436.8,388.2L436.3,387.6L435.8,387.0L435.3,386.8L434.7,386.7L434.2,386.8L433.7,386.5L433.2,386.6L432.6,386.6L432.1,387.4L431.6,387.6L431.1,387.5L430.5,387.6L430.0,387.0L429.5,387.4L429.0,387.5L428.5,388.1L428.0,388.2L427.5,388.9L427.0,388.8L426.4,388.7L425.9,388.7L425.4,387.6L424.8,387.1L424.3,385.8L424.0,389.9L423.5,390.0L423.0,390.1L422.5,389.9L422.0,389.7L421.5,389.2L421.0,388.7L420.5,389.3L419.9,389.6L419.4,389.6L418.9,389.0L418.4,389.0L417.9,388.5L417.4,388.0L416.9,387.0L416.4,387.8L415.9,387.1L415.4,386.6L414.9,386.4L414.4,386.3L413.9,385.5L413.4,385.6L412.9,385.1L412.4,384.7L411.8,385.8L411.3,385.8L410.8,385.7L410.3,385.5L409.8,385.5L409.3,385.5L408.8,384.5L408.3,384.3L407.8,384.2L407.2,384.5L406.7,385.5L406.2,384.5L405.7,384.8L405.1,384.7L404.6,385.5L404.1,385.7L403.6,385.3L403.0,384.4L402.8,380.1L402.2,380.0L401.7,380.3L401.1,380.1L400.6,380.0L400.1,379.9L399.5,380.3L399.0,379.7L398.5,378.8L397.9,378.2L397.4,380.0L396.9,379.7L396.3,379.7L395.8,379.4L395.2,378.5L394.7,377.2L394.1,375.7L393.6,374.6L393.1,374.3L392.5,374.9L392.0,374.9L391.5,374.2L391.0,374.0L390.5,374.8L390.0,374.5L389.5,375.0L389.0,375.3L388.5,376.5L388.0,376.3L387.5,376.4L386.9,375.9L386.4,376.3L385.9,376.4L385.4,376.4L384.8,378.9L384.3,377.1L383.8,378.0L383.2,377.7L383.0,370.8L382.4,370.8L381.8,370.1L381.3,372.6L380.7,371.5L380.1,373.2L379.6,372.7L379.0,373.6L378.5,374.1L377.9,373.4L377.4,374.6L376.9,373.3L376.3,374.1L375.8,373.3L375.3,371.5L374.8,369.2L374.3,368.2L373.8,366.4L373.3,364.1L372.7,365.8L372.1,365.3L371.6,365.9L371.0,366.1L370.5,367.6L370.0,366.5L369.5,368.2L369.0,369.0L368.5,368.0L368.2,360.4L367.7,362.1L367.1,362.7L366.6,361.7L366.0,363.4L365.5,361.9L364.9,361.6L364.4,361.8L363.9,360.7L363.3,364.6L362.8,360.9L362.3,359.5L361.8,358.1L361.3,355.4L360.8,355.0L360.2,354.7L359.7,356.5L359.1,356.0L358.6,355.5L358.0,356.9L357.5,355.9L357.0,356.5L356.5,357.8L356.0,358.0L355.5,357.1L355.0,357.3L354.4,361.1L354.2,350.1L353.6,352.7L353.1,350.2L352.6,349.2L352.1,350.0L351.5,350.0L351.0,353.4L350.5,352.1L350.0,353.4L349.5,353.4L349.0,354.4L348.5,353.4L348.0,354.1L347.5,355.4L347.0,351.4L346.5,350.7L346.0,348.6L345.5,346.4L345.0,345.4L344.5,348.0L344.0,343.7L343.5,344.2L343.0,344.3L342.5,347.3L342.0,345.7L341.5,345.5L341.0,346.3L340.5,345.6L339.9,346.4L339.4,347.1L338.8,346.7L338.3,347.1L337.8,346.2L337.2,346.6L336.6,346.1L336.1,343.5L335.6,341.3L335.0,339.9L334.5,340.2L334.0,340.2L333.5,341.8L333.0,342.4L332.5,342.1L332.0,341.5L331.5,342.8L331.0,342.9L330.5,341.5L329.9,341.1L329.4,341.3L328.8,344.7L328.3,342.8L327.7,342.1L327.2,346.4L326.6,341.5L326.1,342.1L325.5,342.8L324.9,342.4L324.4,345.1L323.9,345.1L323.3,345.1L322.8,348.0L322.2,348.1L321.7,349.5L321.2,351.1L320.3,312.5L319.8,315.8L319.3,320.1L318.8,319.4L318.2,316.2L317.7,318.5L317.2,320.5L316.7,320.0L316.2,321.2L315.6,323.4L315.1,324.7L314.6,325.7L314.1,326.1L313.5,326.9L313.0,328.3L312.4,329.3L311.9,331.3L311.4,333.9L310.8,334.5L310.2,333.2L309.7,334.4L309.0,331.6L308.3,325.9L307.7,324.0L307.1,323.7L306.5,330.9L306.0,326.6L305.5,327.8L305.0,328.8L304.5,332.0L304.0,334.2L303.5,327.9L303.0,326.5L302.5,327.3L302.0,327.1L301.5,327.5L301.0,329.3L300.5,329.9L300.0,330.8L299.5,331.7L298.9,328.2L298.3,323.5L297.8,321.8L297.3,323.3L296.8,325.4L296.3,326.9L295.8,332.4L295.2,329.0L294.7,329.4L294.1,330.9L293.6,328.7L293.0,329.3L292.4,331.2L291.9,330.5L291.4,332.8L290.8,333.4L290.3,330.9L289.8,330.9L289.3,328.1L288.8,328.0L288.3,326.0L287.8,324.7L287.3,326.0L286.8,326.7L286.3,326.3L285.8,328.1L285.3,330.4L284.8,324.8L284.2,315.1L283.7,316.3L283.1,320.6L282.6,320.1L282.1,323.3L281.5,324.9L281.0,325.7L280.5,328.7L279.9,329.7L279.4,332.1L278.8,331.4L278.3,334.5L277.8,337.0L277.3,339.6L276.8,338.2L276.3,340.5L275.8,341.9L275.3,340.6L274.8,340.7L274.3,338.0L273.8,335.7L273.3,337.2L272.5,327.3L272.0,329.9L271.5,329.8L271.0,331.2L270.5,331.1L269.9,331.8L269.4,333.3L268.9,336.3L268.3,338.7L267.8,336.6L267.2,336.7L266.7,334.3L266.2,334.7L265.7,338.8L265.2,337.6L264.7,339.6L264.2,340.4L263.6,341.6L263.0,343.6L262.4,346.3L261.9,350.4L261.3,352.0L260.6,342.0L260.0,333.8L259.5,334.9L259.0,338.8L258.5,337.7L258.0,340.3L257.5,340.7L257.0,342.2L256.5,344.0L256.0,346.4L255.5,347.4L255.0,350.8L254.4,349.6L253.9,347.2L253.3,344.4L252.7,344.9L252.1,348.5L251.5,348.8L251.0,350.4L250.5,353.6L250.0,357.1L249.5,352.5L249.0,353.5L248.5,353.7L247.9,355.2L247.3,357.7L246.7,361.0L245.8,349.8L245.2,349.8L244.6,352.6L244.0,351.6L243.4,353.8L242.8,355.1L242.3,356.6L241.7,359.8L241.1,359.8L240.6,364.0L240.1,365.5L239.5,369.4L238.9,365.6L238.3,358.3L237.7,359.1L237.1,359.7L236.5,358.6L236.0,357.2L235.5,358.9L235.0,355.5L234.5,356.0L234.0,358.0L233.5,357.4L233.0,358.3L232.4,359.2L231.9,359.5L231.4,359.7L230.8,359.4L230.2,366.3L229.6,367.0L229.0,369.9L228.5,373.1L228.0,378.1L227.5,378.3L226.7,356.2L226.2,356.8L225.7,358.8L225.2,363.6L224.7,363.9L224.2,366.2L223.7,370.9L223.2,370.0L222.7,372.5L222.2,373.3L221.7,377.3L221.1,379.8L220.6,381.8L220.0,386.8L219.4,384.4L218.9,382.1L218.3,383.1L217.8,383.1L217.2,385.7L216.7,385.3L216.2,381.5L215.7,374.3L215.2,370.8L214.7,368.3Z" fill="#808080" fill-opacity="0.4" stroke="#808080" stroke-opacity="0.5" stroke-width="1.39" stroke-linejoin="miter" stroke-miterlimit="2"/>
<path d="M154.5,515.2L155.0,515.0L155.5,514.8L156.0,514.6L156.5,514.4L157.0,514.2L157.5,514.0L158.1,513.7L158.6,513.3L159.2,513.0L159.5,504.3L160.1,504.3L160.4,512.2L160.6,512.0L161.2,511.6L162.0,511.1L163.0,510.5L163.5,510.1L164.0,509.8L165.0,509.0L165.8,508.3L166.7,507.5L167.5,506.6L168.4,505.7L169.2,504.8L170.0,504.0L170.9,503.0L171.7,502.1L172.5,501.1L173.3,500.2L174.0,499.2L174.8,497.9L175.6,496.6L176.3,495.3L177.0,494.0L177.8,492.8L178.5,491.6L179.2,490.3L180.0,489.0L180.8,487.5L181.5,486.0L182.2,484.4L183.0,482.8L183.8,481.2L184.5,479.6L185.2,477.9L186.0,476.2L186.8,474.4L187.6,472.7L188.3,470.9L189.0,469.2L189.8,467.3L190.4,465.5L191.2,463.2L192.1,460.0L192.6,458.2L193.1,456.4L194.1,452.7L195.1,449.2L196.0,445.7L197.0,442.2L197.5,440.3L198.0,438.4L198.6,436.5L199.1,434.6L199.8,432.0L200.1,427.4L200.5,429.4L200.7,428.9L201.2,427.1L201.8,424.3L202.8,420.0L203.6,416.3L204.5,411.7L205.1,409.2L205.6,406.7L206.1,404.2L206.6,401.7L207.5,397.2L208.0,394.7L208.5,392.2L209.5,387.5L210.4,383.1L211.2,378.9L211.7,376.2L212.3,373.6L213.2,368.7L213.9,365.1L214.3,363.0L214.4,362.6L214.7,362.1L215.2,368.0L215.7,371.3L216.2,376.3L216.7,378.8L217.2,380.3L217.8,376.4L218.3,379.2L218.9,379.3L219.4,381.4L220.0,383.4L220.6,379.0L221.1,377.4L221.7,373.0L222.2,368.9L222.7,370.2L223.2,366.3L223.7,363.8L224.2,362.2L224.7,361.9L225.2,357.5L225.7,354.3L226.2,352.8L226.7,351.9L227.5,374.8L228.0,372.8L228.5,367.8L229.0,365.0L229.6,364.4L230.2,361.4L230.8,355.4L231.4,356.0L231.9,355.3L232.4,355.2L233.0,353.7L233.5,355.7L234.0,351.0L234.5,354.0L235.0,350.1L235.5,354.4L236.0,352.3L236.5,354.7L237.1,355.8L237.7,354.8L238.3,355.5L238.9,360.9L239.5,363.9L240.1,360.4L240.6,359.0L241.1,356.2L241.7,353.1L242.3,353.3L242.8,351.4L243.4,350.9L244.0,348.0L244.6,348.6L245.2,345.6L245.8,344.8L246.7,357.8L247.3,355.1L247.9,350.3L248.5,349.9L249.0,350.3L249.5,348.5L250.0,347.9L250.5,348.0L251.0,346.2L251.5,344.7L252.1,342.6L252.7,341.5L253.3,339.8L253.9,343.1L254.4,344.3L255.0,346.4L255.5,343.6L256.0,343.1L256.5,340.5L257.0,339.8L257.5,337.5L258.0,335.9L258.5,334.2L259.0,333.6L259.5,331.2L260.0,330.5L260.6,338.9L261.3,347.4L261.9,347.1L262.4,344.3L263.0,339.3L263.6,338.5L264.2,336.2L264.7,335.2L265.2,333.8L265.7,333.3L266.2,330.4L266.7,329.4L267.2,331.2L267.8,332.4L268.3,334.3L268.9,329.5L269.4,328.7L269.9,328.0L270.5,326.0L271.0,326.5L271.5,325.0L272.0,325.0L272.5,323.3L273.3,332.7L273.8,332.4L274.3,333.8L274.8,336.3L275.3,336.8L275.8,337.1L276.3,336.2L276.8,334.4L277.3,334.2L277.8,330.5L278.3,329.3L278.8,327.4L279.4,328.9L279.9,325.5L280.5,324.6L281.0,322.6L281.5,321.1L282.1,320.0L282.6,317.4L283.1,313.6L283.7,312.6L284.2,310.3L284.8,320.0L285.3,327.1L285.8,325.7L286.3,323.0L286.8,321.6L287.3,321.9L287.8,321.5L288.3,322.2L288.8,323.3L289.3,325.4L289.8,325.6L290.3,327.9L290.8,328.3L291.4,327.4L291.9,325.8L292.4,326.4L293.0,324.2L293.6,325.4L294.1,325.8L294.7,326.0L295.2,324.1L295.8,328.1L296.3,323.9L296.8,321.3L297.3,320.0L297.8,317.1L298.3,317.4L298.9,322.7L299.5,327.9L300.0,327.3L300.5,325.8L301.0,325.8L301.5,324.2L302.0,322.7L302.5,321.8L303.0,322.6L303.5,324.0L304.0,325.1L304.5,325.5L305.0,324.6L305.5,323.5L306.0,322.4L306.5,324.7L307.1,319.6L307.7,320.5L308.3,321.1L309.0,327.3L309.7,331.6L310.2,329.6L310.8,329.0L311.4,328.6L311.9,326.8L312.4,324.8L313.0,324.2L313.5,322.6L314.1,320.8L314.6,322.1L315.1,320.7L315.6,319.4L316.2,317.7L316.7,316.0L317.2,314.9L317.7,314.6L318.2,310.7L318.8,314.7L319.3,314.0L319.8,311.5L320.3,309.0L321.2,348.4L321.7,345.7L322.2,343.7L322.8,341.8L323.3,339.2L323.9,338.6L324.4,340.8L324.9,338.1L325.5,338.5L326.1,337.4L326.6,336.6L327.2,337.8L327.7,337.7L328.3,336.4L328.8,338.2L329.4,336.2L329.9,335.8L330.5,337.7L331.0,337.5L331.5,337.3L332.0,337.5L332.5,336.6L333.0,337.3L333.5,336.5L334.0,334.8L334.5,336.2L335.0,336.2L335.6,337.6L336.1,337.9L336.6,337.0L337.2,341.3L337.8,342.4L338.3,344.0L338.8,341.7L339.4,341.3L339.9,341.9L340.5,340.4L341.0,342.1L341.5,341.7L342.0,341.1L342.5,342.1L343.0,338.1L343.5,340.5L344.0,339.2L344.5,341.5L345.0,340.4L345.5,341.1L346.0,343.9L346.5,345.8L347.0,345.3L347.5,350.6L348.0,348.5L348.5,348.0L349.0,348.7L349.5,346.8L350.0,347.6L350.5,347.1L351.0,347.8L351.5,345.3L352.1,344.0L352.6,343.3L353.1,345.0L353.6,342.6L354.2,344.2L354.4,352.5L355.0,351.9L355.5,352.2L356.0,352.0L356.5,350.1L357.0,350.7L357.5,351.3L358.0,351.7L358.6,350.3L359.1,351.2L359.7,350.8L360.2,348.9L360.8,349.1L361.3,350.2L361.8,353.3L362.3,354.5L362.8,355.8L363.3,357.4L363.9,355.2L364.4,357.3L364.9,354.8L365.5,356.4L366.0,357.8L366.6,356.6L367.1,356.0L367.7,355.1L368.2,353.7L368.5,360.8L369.0,362.8L369.5,361.5L370.0,360.7L370.5,361.8L371.0,360.8L371.6,360.2L372.1,360.5L372.7,359.9L373.3,359.2L373.8,359.8L374.3,363.1L374.8,363.6L375.3,366.9L375.8,368.6L376.3,368.4L376.9,368.2L377.4,368.5L377.9,367.6L378.5,368.3L379.0,367.9L379.6,367.2L380.1,366.7L380.7,366.3L381.3,366.5L381.8,364.1L382.4,365.8L383.0,365.2L383.2,372.9L383.8,371.9L384.3,371.5L384.8,371.9L385.4,370.2L385.9,370.9L386.4,371.1L386.9,370.2L387.5,369.6L388.0,370.0L388.5,370.9L389.0,369.4L389.5,369.0L390.0,368.4L390.5,369.1L391.0,368.5L391.5,368.7L392.0,369.7L392.5,369.2L393.1,368.8L393.6,367.9L394.1,370.1L394.7,371.5L395.2,373.6L395.8,373.6L396.3,374.2L396.9,374.1L397.4,373.8L397.9,372.7L398.5,372.6L399.0,373.3L399.5,373.4L400.1,373.8L400.6,374.1L401.1,374.1L401.7,374.7L402.2,374.4L402.8,374.0L403.0,378.8L403.6,379.0L404.1,379.5L404.6,379.7L405.1,378.7L405.7,379.2L406.2,378.4L406.7,379.7L407.2,378.6L407.8,378.6L408.3,379.0L408.8,378.9L409.3,379.7L409.8,379.4L410.3,379.5L410.8,379.9L411.3,379.9L411.8,379.9L412.4,378.7L412.9,379.3L413.4,379.4L413.9,379.7L414.4,380.8L414.9,380.7L415.4,380.6L415.9,381.2L416.4,381.7L416.9,380.4L417.4,381.7L417.9,381.8L418.4,382.3L418.9,381.8L419.4,382.7L419.9,383.2L420.5,383.1L421.0,382.7L421.5,383.3L422.0,383.8L422.5,383.8L423.0,384.3L423.5,384.3L424.0,384.4L424.3,380.1L424.8,381.1L425.4,380.6L425.9,382.0L426.4,382.2L427.0,382.4L427.5,382.8L428.0,382.2L428.5,382.4L429.0,381.8L429.5,381.5L430.0,380.6L430.5,381.3L431.1,381.1L431.6,381.5L432.1,381.2L432.6,380.5L433.2,380.8L433.7,380.8L434.2,381.2L434.7,381.1L435.3,381.2L435.8,381.1L436.3,381.6L436.8,382.0L437.3,381.9L437.8,383.2L438.3,383.3L438.8,383.1L439.4,383.6L439.9,384.0L440.4,384.9L440.9,384.7L441.4,385.3L441.9,385.6L442.4,386.3L442.9,386.9L443.4,387.1L443.9,387.5L444.4,387.4L444.9,387.2L445.5,388.2L445.8,381.2L446.3,381.4L446.8,381.7L447.3,382.3L447.8,383.0L448.3,383.5L448.9,382.6L449.4,382.9L449.9,383.2L450.4,383.6L450.9,384.3L451.5,384.8L452.0,383.8L452.5,386.3L453.1,384.7L453.6,384.1L454.1,384.2L454.7,383.7L455.2,384.1L455.8,383.9L456.3,383.8L456.8,384.0L457.3,385.2L457.8,385.7L458.3,385.3L458.8,384.7L459.3,386.0L459.8,386.2L460.4,386.1L460.6,382.3L461.2,383.3L461.8,383.2L462.3,382.2L462.9,383.1L463.5,383.2L464.0,384.5L464.6,384.9L464.9,378.6L465.4,379.1L466.0,379.8L466.5,380.0L467.0,380.7L467.6,380.8L468.1,381.3L468.7,381.1L469.2,381.6L469.7,379.9L470.2,380.1L470.8,380.9L471.3,380.6L471.8,381.1L472.4,381.5L472.9,381.4L473.4,381.2L473.9,381.7L474.5,382.1L474.8,374.4L475.3,373.8L475.8,374.4L476.4,375.6L476.9,376.3L477.4,376.5L478.0,377.2L478.5,377.5L479.0,377.7L479.6,379.3L480.1,379.1L480.6,379.4L481.2,379.9L481.7,379.7L482.2,379.4L482.7,378.2L483.2,377.4L483.7,376.9L484.2,376.9L484.7,376.0L485.2,375.0L485.7,374.2L486.2,373.9L486.7,372.8L487.2,374.1L487.7,374.1L488.2,374.1L488.7,375.9L489.2,376.1L489.7,376.6L490.2,375.5L490.7,376.7L491.2,377.2L491.8,377.6L492.3,378.5L492.8,379.3L493.3,380.2L493.8,380.8L494.3,380.6L494.8,381.2L495.3,381.6L495.8,382.1L496.3,382.4L496.8,382.5L497.3,381.9L497.8,382.4L498.3,382.2L498.8,381.6L499.3,381.5L499.9,381.6L500.1,373.4L500.7,373.3L501.2,373.6L501.7,374.4L502.2,374.7L502.7,375.2L503.2,374.9L503.7,375.5L504.3,375.6L504.8,375.5L505.3,376.0L505.8,376.2L506.3,375.6L506.8,375.3L507.3,375.1L507.8,375.5L508.3,376.5L508.8,376.6L509.3,376.5L509.8,377.1L510.3,376.8L510.8,376.9L511.3,376.9L511.8,376.7L512.4,377.1L512.6,370.0L513.2,370.5L513.7,370.8L514.2,370.0L514.7,370.1L515.2,370.3L515.7,370.6L516.2,370.5L516.7,370.5L517.2,372.2L517.7,372.1L518.2,373.3L518.8,373.6L519.3,373.7L519.8,374.3L520.3,375.0L520.8,375.5L521.3,376.2L521.8,377.5L522.4,377.6L522.6,373.7L523.2,373.2L523.7,373.0L524.2,372.9L524.7,373.3L525.2,373.7L525.8,373.5L526.3,373.9L526.8,373.9L527.3,373.4L527.8,373.5L528.4,373.9L528.9,373.8L529.4,374.1L529.9,374.2L530.4,374.6L530.9,374.4L531.5,374.6L532.0,374.4L532.5,374.1L533.0,374.2L533.5,374.7L534.1,375.1L534.6,375.2L535.1,376.6L535.7,376.6L536.2,377.8L536.7,377.7L537.2,377.9L537.7,377.8L538.2,377.8L538.7,377.7L539.2,377.0L539.7,376.9L540.2,377.2L540.7,377.9L541.2,378.8L541.7,378.8L542.2,379.9L542.7,380.1L543.2,380.7L543.7,381.7L544.2,382.1L544.7,382.0L545.2,382.5L545.8,382.6L546.3,382.7L546.8,383.7L547.3,383.7L547.8,384.5L548.3,385.3L548.8,384.1L549.3,385.2L549.8,385.9L550.3,386.3L550.8,386.7L551.3,387.8L551.8,388.5L552.3,337.8L552.6,355.1L553.1,354.4L553.6,355.4L554.2,356.5L554.7,356.1L555.2,356.7L555.7,356.9L556.2,357.7L556.7,358.0L557.3,357.9L557.8,359.1L558.3,359.3L558.8,359.8L559.3,359.6L559.8,360.5L560.3,360.9L560.8,361.8L561.3,362.7L561.8,363.3L562.3,363.6L562.8,364.3L563.3,364.5L563.8,364.9L564.4,365.9L564.9,365.3L565.4,365.6L566.0,365.6L566.5,365.5L567.1,365.9L567.6,366.2L568.1,366.2L568.7,366.7L569.2,366.6L569.8,366.2L570.3,366.4L570.9,367.2L571.4,367.5L572.0,367.6L572.5,368.7L573.0,368.2L573.6,367.9L574.1,367.8L574.7,367.8L575.2,367.4L575.8,367.2L576.3,367.6L576.8,368.1L577.3,368.4L577.8,366.8L578.3,367.1L578.8,368.0L579.3,368.0L579.8,368.4L580.3,368.4L580.8,369.1L581.3,369.2L581.8,369.3L582.3,368.7L582.8,369.1L583.3,367.6L583.8,367.3L584.3,366.6L584.9,367.3L585.1,362.3L585.7,362.1L586.2,361.6L586.7,362.3L587.2,362.8L587.7,362.6L588.2,362.2L588.7,362.1L589.2,363.1L589.7,363.0L590.2,363.6L590.7,363.8L591.2,364.9L591.8,365.2L592.3,365.6L592.8,366.4L593.3,365.6L593.8,365.9L594.3,366.6L594.8,366.9L595.4,367.5L595.9,368.5L596.4,368.1L596.9,369.0L597.4,369.6L597.9,370.1L598.4,370.3L598.9,371.6L599.5,371.6L599.8,364.0L600.3,363.3L600.8,364.0L601.3,364.1L601.9,363.9L602.4,363.7L602.9,363.8L603.4,364.0L604.0,363.1L604.5,363.5L605.0,364.0L605.6,364.5L606.3,365.8L607.0,366.8L607.2,363.3L607.8,363.5L608.4,363.4L608.9,363.9L609.5,363.5L610.0,363.9L610.6,364.5L611.1,364.5L611.7,364.7L612.2,363.1L612.8,362.6L613.3,361.8L613.8,362.7L614.4,363.3L614.9,363.5L615.4,363.5L616.0,364.3L616.5,364.8L617.0,365.0L617.5,366.0L618.1,366.6L618.6,367.0L618.9,356.9L619.4,357.1L619.9,356.6L620.5,357.0L621.0,357.6L621.5,358.2L622.0,358.2L622.5,359.1L623.1,359.2L623.6,359.8L624.1,360.2L624.6,360.8L625.1,361.2L625.7,361.5L626.2,361.8L626.7,361.7L627.2,360.7L627.8,359.8L628.3,359.2L628.8,359.1L629.1,353.7L629.6,352.5L630.1,351.7L630.7,351.9L631.2,350.5L631.7,350.5L632.2,349.9L632.7,350.3L633.3,351.0L633.8,351.5L634.3,352.1L634.8,352.3L635.3,353.2L635.9,354.0L636.4,354.1L636.9,354.7L637.4,355.5L637.9,356.1L638.4,356.7L639.0,356.2L639.5,356.7L640.0,357.7L640.5,357.7L641.0,358.1L641.5,358.8L642.1,359.4L642.6,359.7L643.1,361.1L643.6,361.7L644.1,361.3L644.6,362.0L645.2,362.1L645.7,363.5L646.2,362.7L646.7,363.5L647.2,363.6L647.7,364.8L648.2,364.6L648.7,365.1L649.2,365.6L649.7,365.9L650.2,366.0L650.5,361.4L651.1,361.2L651.6,361.8L652.1,361.4L652.6,361.7L653.2,361.7L653.7,362.7L654.2,363.0L654.8,363.1L655.3,362.7L655.9,363.3L656.4,362.9L657.0,362.7L657.2,353.2L657.8,351.9L658.3,352.7L658.9,352.5L659.4,354.1L659.9,354.0L660.5,355.1L661.0,354.8L661.5,355.6L662.1,356.3L662.6,356.3L663.1,357.2L663.7,356.9L664.2,357.7L665.0,353.9L665.5,354.7L666.1,354.5L666.6,354.9L667.2,355.7L667.8,356.5L668.3,355.9L668.9,356.1L669.4,355.4L670.0,354.6L670.5,355.4L671.0,356.0L671.6,356.3L672.1,356.1L672.6,357.0L673.2,356.0L673.7,356.7L674.2,357.9L674.8,358.0L675.3,358.5L675.9,357.2L676.4,358.2L677.0,358.1L677.5,358.0L678.0,358.8L678.5,358.7L679.0,360.1L679.5,360.4L680.0,360.3L680.5,360.6L681.0,361.0L681.5,361.0L682.1,360.9L682.6,361.7L683.1,362.2L683.6,362.5L684.1,363.3L684.6,363.6L685.1,364.4L685.6,364.8L686.1,365.0L686.4,346.9L686.9,347.5L687.4,348.0L687.9,348.6L688.4,349.2L689.0,348.6L689.5,349.6L690.0,348.3L690.5,349.3L691.0,349.2L691.5,350.0L692.0,350.2L692.5,351.0L693.0,351.7L693.5,351.7L694.1,352.5L694.6,353.0L695.1,353.3L695.6,353.8L696.1,353.5L696.6,354.1L697.1,354.5L697.6,354.8L698.1,355.2L698.7,355.5L699.2,355.3L699.7,356.0L700.2,356.2L700.7,356.6L701.0,353.1L701.6,353.8L702.1,353.8L702.7,354.6L703.2,354.4L703.8,354.6L704.3,355.3L704.9,354.6L705.5,355.7L706.3,322.2L706.6,351.9L707.1,352.1L707.6,352.1L708.1,352.6L708.7,353.5L709.2,352.9L709.7,353.5L710.2,354.0L710.7,354.0L711.2,354.6L711.7,354.5L712.2,354.2L712.8,354.0L713.3,354.9L713.8,355.6L714.3,356.2L714.9,356.9L715.4,357.1L715.9,357.6L716.4,358.0L717.0,358.9L717.5,358.6L718.3,355.8L718.9,356.7L719.4,357.2L720.0,356.2L720.6,356.6L721.1,357.3L721.7,358.4L722.2,356.4L722.8,356.1L723.3,356.5L723.8,356.7L724.3,358.0L724.8,358.1L725.3,357.8L725.9,357.5L726.4,358.3L726.9,358.6L727.4,359.7L727.9,359.5L728.4,360.4L728.9,360.9L729.4,361.2L729.9,361.6L730.4,362.9L730.9,362.4L731.4,363.1L732.0,363.2L732.2,349.7L732.8,349.4L733.3,350.1L733.8,350.7L734.3,351.2L734.8,352.1L735.3,352.0L735.8,352.3L736.3,352.0L736.8,352.3L737.3,352.3L737.8,353.7L738.3,353.4L738.9,353.2L739.4,353.7L740.0,353.5L740.5,352.5L741.0,352.9L741.5,353.5L742.0,353.7L742.5,354.5L743.0,354.2L743.5,355.0L744.0,354.5L744.5,355.2L745.0,355.4L745.5,356.1L746.0,356.5L746.5,356.6L747.1,356.8L747.6,357.0L748.1,357.7L748.6,358.2L749.1,358.5L749.6,358.9L750.1,359.0L750.6,359.2L751.1,358.8L751.6,359.7L752.1,360.2L752.6,359.8L753.1,360.6L753.6,360.7L753.9,347.0L754.4,347.9L754.9,348.8L755.4,348.6L755.9,348.9L756.4,349.2L756.9,348.6L757.4,349.5L757.9,349.9L758.4,350.1L758.9,350.4L759.4,351.5L759.9,351.2L760.4,351.6L760.9,352.0L761.4,352.5L761.9,352.8L762.4,353.2L762.9,353.8L763.4,352.8L763.9,353.2L764.4,354.4L764.9,353.8L765.5,354.7L765.8,343.6L766.2,343.9L766.8,344.0L767.2,344.2L767.8,344.9L768.2,345.4L768.8,345.1L769.2,346.3L769.8,346.6L770.2,347.3L770.8,348.0L771.2,348.6L771.8,348.1L772.2,348.3L772.8,348.5L773.0,342.6L773.6,342.8L774.1,342.9L774.6,343.4L775.1,343.2L775.7,344.2L776.2,344.3L776.7,344.5L777.2,343.3L777.7,342.7L778.2,341.9L778.7,341.6L779.2,341.9L779.7,342.8L780.2,342.6L780.8,342.9L781.3,343.0L781.8,344.2L782.3,344.3L782.8,344.8L783.3,345.3L783.8,346.3L784.4,346.3L784.9,347.3L785.4,347.8L785.9,347.7L786.4,348.1L786.9,348.6L787.4,347.4L787.9,347.9L788.5,348.8L789.0,349.7L789.5,349.6L790.0,351.0L790.5,351.0L791.0,351.8L791.5,351.9L792.0,352.5L792.5,353.0L793.0,352.3L793.5,353.1L794.0,353.4L794.5,353.9L795.0,354.3L795.5,354.4L796.0,355.5L796.5,356.4L797.0,355.9L797.5,356.6L798.0,357.0L798.5,357.4L799.0,357.9L799.5,358.1L800.0,358.8L800.5,359.6L801.0,359.1L801.5,359.7L802.0,360.4L802.5,360.4L803.0,361.4L803.5,361.6L804.0,361.6L804.5,360.4L805.0,360.5L805.5,361.7L806.0,362.2L806.5,362.9L807.0,363.0L807.5,363.4L808.0,364.1L808.5,364.7L809.0,365.2L809.5,365.8L810.0,366.1L810.5,366.3L811.0,365.8L811.5,366.0L812.0,366.4L812.5,366.1L813.0,366.6L813.6,367.1L814.1,367.1L814.6,366.9L815.1,367.6L815.6,368.1L816.1,368.0L816.4,344.5L816.9,344.5L817.4,345.2L817.9,345.4L818.4,345.9L818.9,346.5L819.4,346.4L820.0,346.5L820.5,346.4L821.0,347.0L821.5,346.8L822.0,348.3L822.5,348.5L823.0,348.1L823.5,349.0L824.0,349.1L824.5,349.4L825.0,350.1L825.5,350.5L826.0,350.8L826.5,351.0L827.1,351.6L827.6,352.2L828.1,352.0L828.6,352.3L829.1,352.2L829.6,352.1L830.1,353.3L830.6,353.4L831.1,353.3L831.6,354.7L832.1,354.8L832.6,355.1L833.1,355.3L833.7,354.9L834.2,355.6L834.7,355.9L835.2,356.3L835.7,356.8L836.2,357.2L836.7,357.3L837.2,357.9L837.7,358.7L838.2,358.4L838.7,357.4L839.2,357.7L839.7,358.0L840.2,358.6L840.7,359.5L841.2,359.8L841.7,359.7L842.2,359.9L842.7,360.8L843.2,361.4L843.7,361.2L844.2,361.7L844.7,361.9L845.2,361.4L845.7,362.0L846.2,362.4L846.7,362.7L847.2,362.9L847.7,363.2L848.2,363.4L848.7,363.7L849.2,364.2L849.7,364.6L850.2,365.1L850.7,364.9L851.2,364.7L851.7,365.4L852.2,365.3L852.7,366.0L853.2,366.3L853.7,366.8L854.2,366.9L854.7,366.8L855.2,367.9L855.7,367.8L856.2,368.3L856.7,368.0L857.5,364.7L858.0,365.6L858.6,365.5L859.1,366.2L859.6,366.8L860.2,366.2L860.7,366.8L861.2,367.1L861.8,367.9L862.3,368.8L862.8,368.7L863.4,370.1L863.9,370.2L864.5,370.1L864.8,361.9L865.3,362.5L865.8,362.5L866.3,362.7L866.8,363.0L867.4,363.4L867.9,363.6L868.4,364.0L868.9,364.7L869.4,365.3L870.0,365.5L870.5,365.9L871.0,366.7L871.5,365.6L872.0,366.6L872.6,366.8L873.1,367.4L873.6,368.1L873.9,354.5L874.4,354.5L874.9,355.3L875.4,355.6L875.9,356.0L876.4,355.9L876.9,356.3L877.4,356.9L877.9,357.4L878.4,358.2L878.9,358.5L879.4,358.7L879.9,358.5L880.4,359.5L880.9,359.4L881.4,359.8L881.9,360.7L882.4,361.0L882.9,361.4L883.4,361.7L883.9,362.4L884.4,360.8L884.9,361.9L885.4,362.0L885.9,363.5L886.4,356.0L886.7,364.4L887.3,364.4L887.9,365.1L888.4,365.7L889.0,365.3L889.6,366.2L890.1,367.0L890.7,367.2L891.0,348.9L891.5,349.8L892.0,349.5L892.6,350.0L893.1,350.6L893.6,351.3L894.1,352.0L894.6,351.7L895.2,351.5L895.7,352.5L896.2,352.3L896.7,353.4L897.3,353.7L897.8,352.9L898.3,353.7L898.9,353.2L899.4,353.7L900.0,353.0L900.5,354.0L901.0,353.7L901.5,355.3L902.0,355.3L902.6,355.5L903.1,356.7L903.6,355.4L904.1,356.2L904.6,356.4L905.1,357.5L905.6,358.2L906.1,358.6L906.6,359.2L907.2,359.3L907.7,360.1L908.2,361.0L908.7,360.8L909.2,362.1L909.7,361.6L910.3,361.9L910.8,360.9L911.3,360.6L911.8,361.0L912.3,361.5L912.8,362.0L913.3,362.5L913.8,362.5L914.3,362.9L914.9,363.6L915.4,363.7L915.9,363.1L916.4,363.4L916.9,364.2L917.4,364.6L917.9,365.1L918.4,365.8L918.9,365.6L919.4,365.8L919.9,366.5L920.4,366.1L920.9,366.7L921.4,366.8L922.0,367.6L922.2,347.0L922.8,347.9L923.3,348.2L923.8,348.6L924.3,349.0L924.8,349.6L925.3,349.8L925.8,349.3L926.3,349.7L926.8,350.1L927.4,350.6L927.9,351.1L928.4,351.6L928.9,351.5L929.4,352.3L929.9,352.4L930.4,353.0L930.9,353.8L931.4,354.0L932.0,353.6L932.2,350.3L932.8,350.7L933.2,351.3L933.8,351.8L934.2,352.4L934.8,352.7L935.2,352.9L935.8,353.0L936.2,353.1L936.5,348.1L937.1,349.2L937.6,348.0L938.1,348.5L938.6,349.2L939.1,350.1L939.6,350.7L940.1,351.4L940.7,350.6L941.2,351.5L941.7,352.4L942.2,352.5L942.7,353.0L943.2,353.8L943.7,354.2L944.3,354.7L944.8,355.6L945.3,355.9L945.8,355.7L946.3,356.6L946.8,355.9L947.4,356.6L947.9,356.8L948.4,357.9L948.9,358.4L949.5,358.6L950.0,359.1L950.5,359.9L951.0,361.0L951.6,360.9L952.1,361.7L952.6,362.1L953.1,361.7L953.7,362.1L954.2,362.9L954.7,362.7L955.2,363.7L955.5,356.6L956.2,356.7L956.9,356.3L957.5,356.1L958.0,356.5L958.6,355.9L959.1,357.0L959.7,357.9L960.2,358.4L960.8,359.7L961.3,360.1L961.9,360.6L962.4,361.2L963.0,361.5L963.2,354.0L963.8,353.9L964.3,355.1L964.8,355.7L965.4,356.5L965.9,357.5L966.4,357.3L966.9,358.2L967.5,359.5L968.0,360.1L968.5,360.2L969.1,360.5L969.6,361.6L970.1,362.2L970.6,362.3L971.2,361.8L971.7,363.2L972.2,362.6L972.7,362.8L973.2,363.0L973.7,363.4L974.2,363.9L974.7,364.5L975.2,365.1L975.7,364.3L976.2,364.9L976.8,365.8L977.3,366.7L977.8,367.4L978.3,367.9L978.8,368.5L979.3,369.3L979.8,368.6L980.3,370.2L980.8,370.7L981.3,371.7L981.9,372.1L982.4,372.5L982.9,373.0L983.4,374.0L983.9,374.6L984.4,375.0L984.9,375.8L985.4,376.3L985.9,376.2L986.4,377.0L987.0,377.4L987.2,340.7L987.8,341.6L988.3,341.8L988.8,342.6L989.3,343.3L989.8,343.7L990.3,344.1L990.8,344.8L991.3,344.8L991.8,344.8L992.3,335.0L992.6,345.8L993.1,346.3L993.6,346.9L994.2,347.5L994.7,349.1L995.2,349.9L995.7,350.2L996.2,351.5L996.7,351.0L997.3,352.3L997.8,352.5L998.3,354.0L998.9,353.0L999.4,352.8L1000.0,351.9L1000.5,353.2L1001.0,353.6L1001.6,354.7L1002.1,355.3L1002.6,356.6L1003.1,357.2L1003.6,357.2L1004.2,358.2L1004.7,359.2L1005.2,359.9L1005.7,360.8L1006.2,361.9L1006.5,354.9L1007.1,355.9L1007.6,357.2L1008.2,358.3L1008.7,359.2L1009.2,360.0L1009.8,360.9L1010.3,362.0L1010.9,362.7L1011.1,354.1L1011.7,355.4L1012.2,356.3L1012.7,355.5L1013.2,356.9L1013.7,357.7L1014.2,358.1L1014.7,359.3L1015.3,360.4L1015.8,359.8L1016.3,361.3L1016.8,363.0L1017.3,363.7L1017.8,365.1L1018.3,365.6L1018.8,366.6L1019.4,368.1L1019.9,368.2L1020.4,369.2L1020.9,369.4L1021.2,343.0L1021.8,342.7L1022.3,341.2L1022.9,339.8L1023.8,345.9L1024.5,340.0L1025.3,327.4L1025.6,333.7L1026.1,334.0L1026.6,334.7L1027.2,334.9L1027.7,335.5L1028.2,335.6L1028.8,337.5L1029.4,339.4L1030.0,340.9L1030.6,342.7L1031.3,344.7L1032.3,348.4L1032.8,350.3L1033.3,352.2L1034.2,355.8L1035.2,359.4L1036.1,363.2L1037.0,367.0L1037.9,370.8L1038.9,375.1L1039.7,378.7L1040.6,382.6L1041.6,386.6L1042.5,390.7L1043.4,394.8L1044.4,398.9L1045.3,403.1L1046.2,407.2L1047.1,411.3L1048.0,415.4L1048.8,419.6L1049.7,423.8L1050.6,428.2L1051.5,432.6L1052.4,437.0L1053.3,441.2L1054.2,445.1L1055.1,448.8L1056.1,452.4L1057.0,455.9L1057.9,459.4L1058.8,462.9L1059.8,466.2L1060.7,469.6L1061.7,473.1L1062.2,474.8L1062.7,476.6L1063.6,479.8L1064.4,482.5L1064.9,484.2L1065.4,485.9L1066.0,487.6L1066.3,488.4L1066.5,480.5L1066.8,480.5L1067.0,490.1L1067.3,490.8L1067.4,491.2L1068.0,492.6L1068.7,494.1L1069.7,496.1L1070.2,497.1L1070.7,498.1L1071.2,499.0L1071.7,499.9L1072.6,501.2L1073.6,502.4L1074.5,503.5L1075.4,504.5L1076.4,505.6L1076.9,506.2L1077.4,506.8L1078.4,507.8L1079.0,508.5" fill="none" stroke="#000" stroke-width="2.65" stroke-linejoin="round" stroke-linecap="butt"/>
<path d="M159.9,497.2V505" stroke="#808080" stroke-opacity="0.4" stroke-width="1.6" fill="none"/>
<g fill="#0000ff">
<circle cx="160.3" cy="503.7" r="2.8"/>
<circle cx="214.5" cy="361.0" r="2.8"/>
<circle cx="215.0" cy="356.9" r="2.8"/>
<circle cx="214.8" cy="358.7" r="2.8"/>
<circle cx="220.3" cy="374.4" r="2.8"/>
<circle cx="227.3" cy="343.7" r="2.8"/>
<circle cx="226.5" cy="347.2" r="2.8"/>
<circle cx="225.7" cy="351.2" r="2.8"/>
<circle cx="226.2" cy="349.2" r="2.8"/>
<circle cx="229.3" cy="359.7" r="2.8"/>
<circle cx="228.7" cy="363.2" r="2.8"/>
<circle cx="228.0" cy="367.2" r="2.8"/>
<circle cx="227.7" cy="365.2" r="2.8"/>
<circle cx="240.0" cy="355.2" r="2.8"/>
<circle cx="239.3" cy="356.2" r="2.8"/>
<circle cx="246.3" cy="334.5" r="2.8"/>
<circle cx="260.2" cy="321.0" r="2.8"/>
<circle cx="261.5" cy="320.8" r="2.8"/>
<circle cx="262.0" cy="335.7" r="2.8"/>
<circle cx="262.0" cy="338.2" r="2.8"/>
<circle cx="261.8" cy="340.2" r="2.8"/>
<circle cx="275.3" cy="329.7" r="2.8"/>
<circle cx="284.5" cy="303.7" r="2.8"/>
<circle cx="285.5" cy="301.7" r="2.8"/>
<circle cx="299.5" cy="306.5" r="2.8"/>
<circle cx="319.5" cy="302.2" r="2.8"/>
<circle cx="320.4" cy="299.7" r="2.8"/>
<circle cx="321.0" cy="298.2" r="2.8"/>
<circle cx="322.0" cy="338.5" r="2.8"/>
<circle cx="552.5" cy="328.5" r="2.8"/>
<circle cx="706.5" cy="311.7" r="2.8"/>
<circle cx="886.5" cy="347.7" r="2.8"/>
<circle cx="956.3" cy="357.7" r="2.8"/>
<circle cx="992.3" cy="326.5" r="2.8"/>
<circle cx="1025.3" cy="317.4" r="2.8"/>
<circle cx="1026.3" cy="322.7" r="2.8"/>
<circle cx="1066.5" cy="477.5" r="2.8"/>
</g>
<g stroke="#000" stroke-width="1.111" fill="none" stroke-linecap="butt">
<rect x="150.5" y="72.5" width="930" height="462" stroke-linejoin="miter"/>
<line x1="238.5" y1="534.5" x2="238.5" y2="539.5"/>
<line x1="364.5" y1="534.5" x2="364.5" y2="539.5"/>
<line x1="489.5" y1="534.5" x2="489.5" y2="539.5"/>
<line x1="615.5" y1="534.5" x2="615.5" y2="539.5"/>
<line x1="741.5" y1="534.5" x2="741.5" y2="539.5"/>
<line x1="866.5" y1="534.5" x2="866.5" y2="539.5"/>
<line x1="992.5" y1="534.5" x2="992.5" y2="539.5"/>
<line x1="145.5" y1="534.5" x2="150.5" y2="534.5"/>
<line x1="145.5" y1="476.5" x2="150.5" y2="476.5"/>
<line x1="145.5" y1="419.5" x2="150.5" y2="419.5"/>
<line x1="145.5" y1="361.5" x2="150.5" y2="361.5"/>
<line x1="145.5" y1="303.5" x2="150.5" y2="303.5"/>
<line x1="145.5" y1="245.5" x2="150.5" y2="245.5"/>
<line x1="145.5" y1="188.5" x2="150.5" y2="188.5"/>
<line x1="145.5" y1="130.5" x2="150.5" y2="130.5"/>
<line x1="145.5" y1="72.5" x2="150.5" y2="72.5"/>
</g>
<text transform="translate(229.38 554.70) scale(1.0808 1)" font-size="14.2">20</text>
<text transform="translate(355.61 554.70) scale(1.0001 1)" font-size="14.2">30</text>
<text transform="translate(481.83 554.70) scale(0.9856 1)" font-size="14.2">40</text>
<text transform="translate(606.58 554.70) scale(1.0019 1)" font-size="14.2">50</text>
<text transform="translate(732.37 554.70) scale(1.0813 1)" font-size="14.2">60</text>
<text transform="translate(858.41 554.70) scale(1.0130 1)" font-size="14.2">70</text>
<text transform="translate(983.49 554.70) scale(1.0737 1)" font-size="14.2">80</text>
<text transform="translate(123.83 77.70) scale(0.9856 1)" font-size="14.2">40</text>
<text transform="translate(123.64 134.70) scale(0.9347 1)" font-size="14.2">35</text>
<text transform="translate(123.61 192.70) scale(1.0001 1)" font-size="14.2">30</text>
<text transform="translate(123.43 250.70) scale(1.0149 1)" font-size="14.2">25</text>
<text transform="translate(123.38 307.70) scale(1.0808 1)" font-size="14.2">20</text>
<text transform="translate(124.18 365.70) scale(0.8996 1)" font-size="14.2">15</text>
<text transform="translate(124.10 423.70) scale(0.9676 1)" font-size="14.2">10</text>
<text transform="translate(132.58 481.70) scale(0.9952 1)" font-size="14.2">5</text>
<text transform="translate(132.60 539.70) scale(0.9870 1)" font-size="14.2">0</text>
<text transform="translate(556.87 574.00) scale(1.0577 1)" font-size="14.2">Frequency</text>
<text transform="translate(633.28 574.00) scale(1.0466 1)" font-size="14.2">(MHz)</text>
<text transform="translate(113.20 347.02) rotate(-90) scale(1.0476 1)" font-size="14.2">Power</text>
<text transform="translate(113.20 299.63) rotate(-90) scale(0.9475 1)" font-size="14.2">(CPU)</text>
<text transform="translate(450.04 64.00) scale(1.0934 1)" font-size="17.4" stroke="#000" stroke-width="0.14">2025-02-14</text>
<text transform="translate(552.46 64.00) scale(1.0829 1)" font-size="17.4" stroke="#000" stroke-width="0.14">-</text>
<text transform="translate(563.89 64.00) scale(1.0348 1)" font-size="17.4" stroke="#000" stroke-width="0.14">Cor</text>
<text transform="translate(598.90 64.00) scale(1.0538 1)" font-size="17.4" stroke="#000" stroke-width="0.14">101</text>
<text transform="translate(634.94 64.00) scale(1.1064 1)" font-size="17.4" stroke="#000" stroke-width="0.14">-</text>
<text transform="translate(646.49 64.00) scale(0.9886 1)" font-size="17.4" stroke="#000" stroke-width="0.14">LWA017</text>
<text transform="translate(718.36 64.00) scale(1.0829 1)" font-size="17.4" stroke="#000" stroke-width="0.14">-</text>
<text transform="translate(729.63 64.00) scale(0.9576 1)" font-size="17.4" stroke="#000" stroke-width="0.14">Pol</text>
<text transform="translate(759.27 64.00) scale(0.8554 1)" font-size="17.4" stroke="#000" stroke-width="0.14">YY</text>
<rect x="899.5" y="79.5" width="174" height="67" rx="2.78" ry="2.78" fill="#ffffff" fill-opacity="0.8" stroke="#cccccc" stroke-opacity="0.8" stroke-width="1.111"/>
<line x1="903" y1="91" x2="933" y2="91" stroke="#000" stroke-width="2.083" stroke-linecap="butt"/>
<circle cx="918.5" cy="112.5" r="2.89" fill="#0000ff"/>
<rect x="904.5" y="128.5" width="28" height="9" fill="#808080" fill-opacity="0.4" stroke="#808080" stroke-opacity="0.4" stroke-width="1.389"/>
<text transform="translate(942.82 94.80) scale(1.0947 1)" font-size="14.2">Median</text>
<text transform="translate(998.50 94.80) scale(1.0915 1)" font-size="14.2">Spectrum</text>
<text transform="translate(942.85 115.60) scale(1.0704 1)" font-size="14.2">Flagged</text>
<text transform="translate(1003.44 115.60) scale(1.0483 1)" font-size="14.2">Channels</text>
<text transform="translate(942.82 137.10) scale(1.0947 1)" font-size="14.2">Median</text>
<text transform="translate(998.17 137.10) scale(1.0188 1)" font-size="14.2">Abs.</text>
<text transform="translate(1033.00 137.10) scale(1.0323 1)" font-size="14.2">Dev.</text>
</svg>
</body></html>
